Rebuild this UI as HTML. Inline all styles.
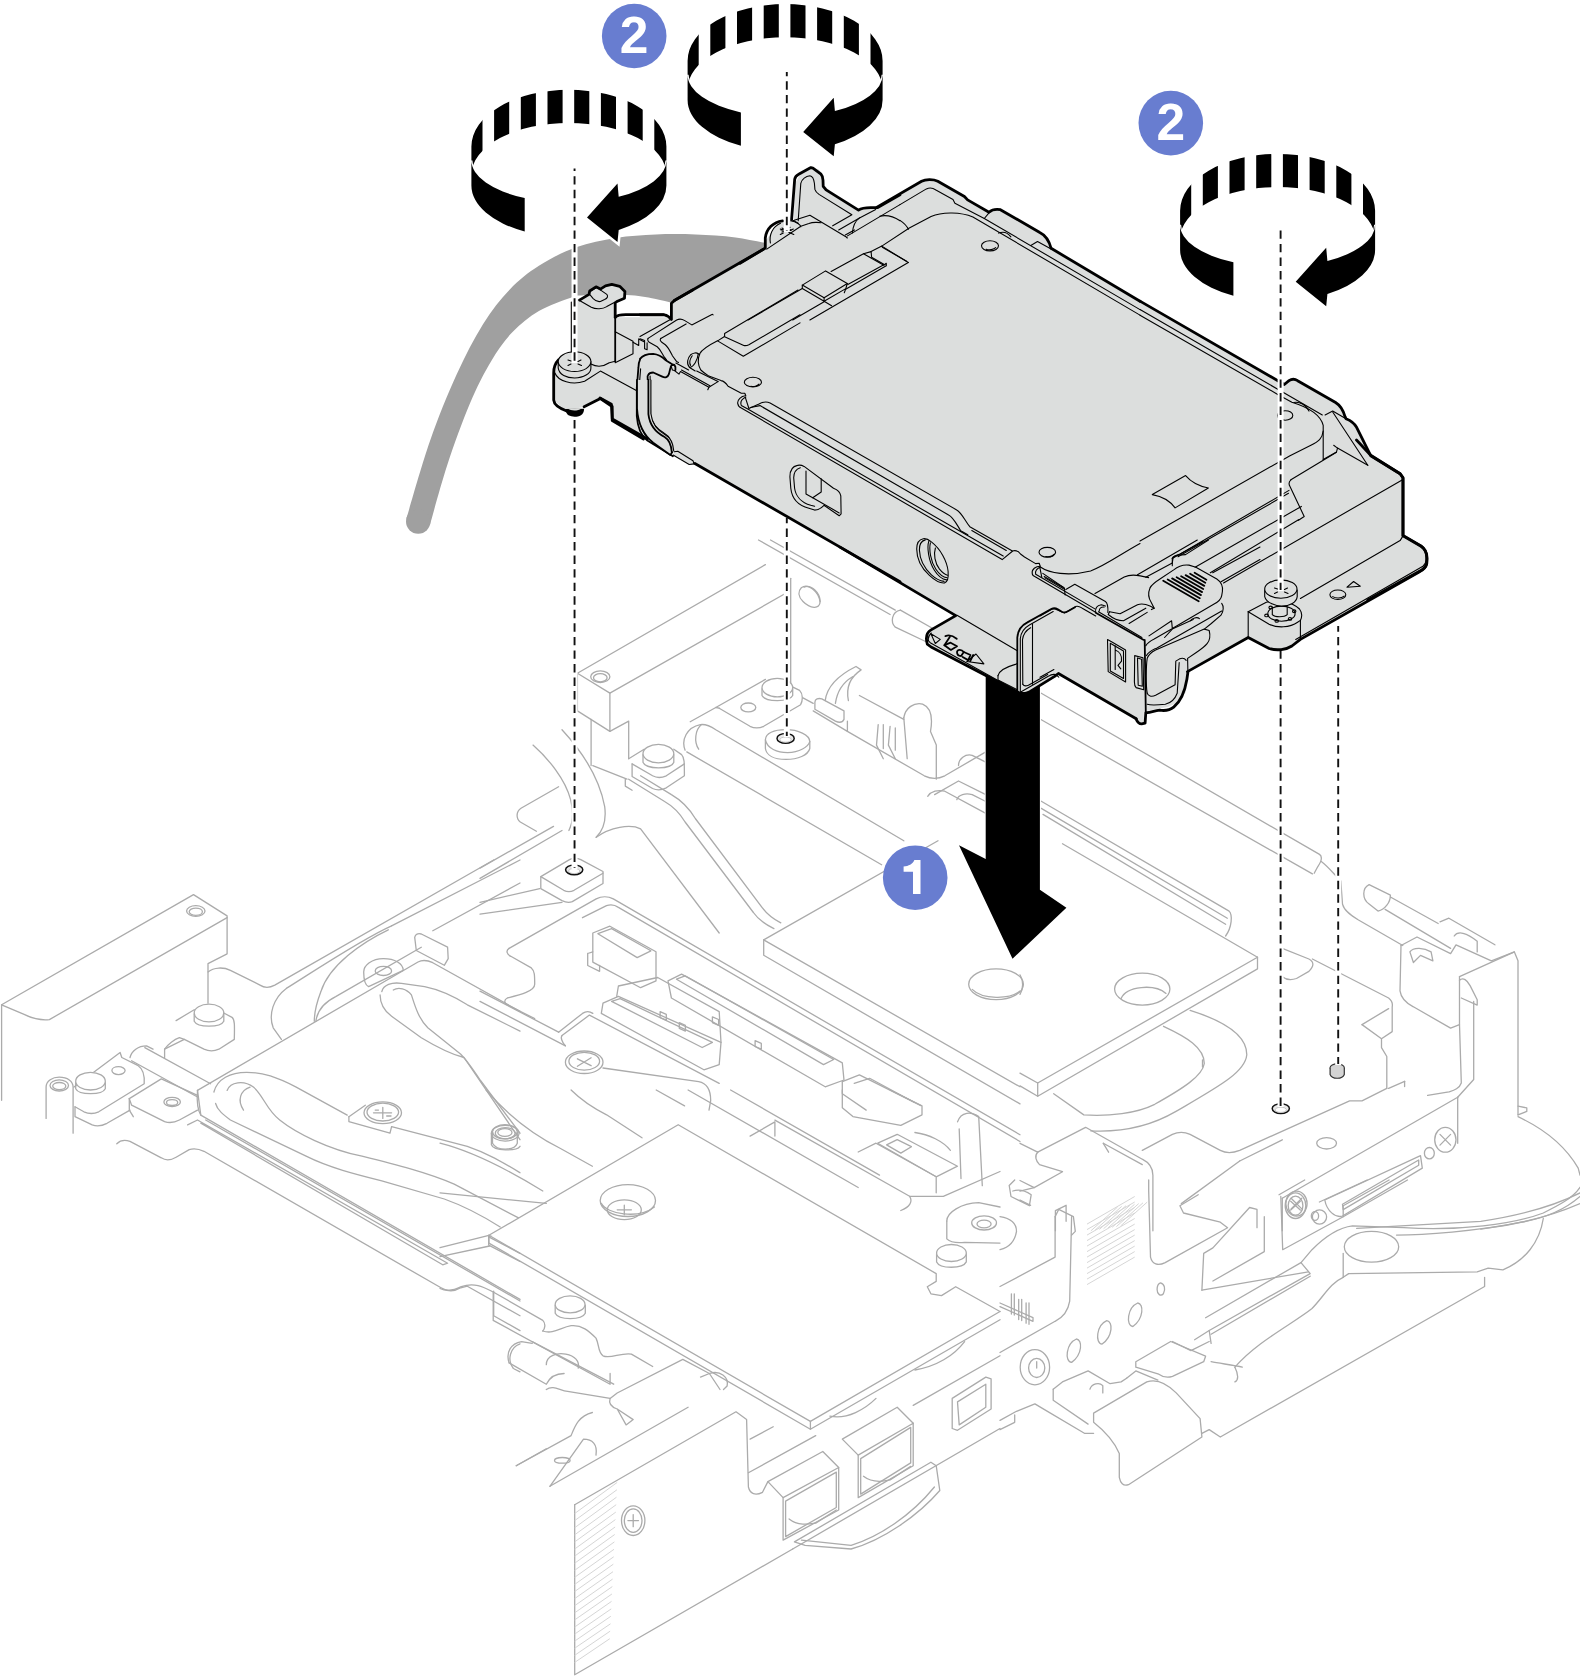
<!DOCTYPE html>
<html><head><meta charset="utf-8"><title>Install drive cage</title>
<style>
html,body{margin:0;padding:0;background:#fff;}
body{width:1580px;height:1677px;overflow:hidden;font-family:"Liberation Sans",sans-serif;}
svg{display:block;}
.chh{fill:none;stroke:#d6d6d6;stroke-width:1;}
.chp{fill:#d4d4d4;stroke:#333;stroke-width:1.2;}
.ch{fill:none;stroke:#ababab;stroke-width:1.3;stroke-linejoin:round;stroke-linecap:round;}
.chf{fill:#fff;stroke:#ababab;stroke-width:1.3;stroke-linejoin:round;stroke-linecap:round;}
.tk{fill:none;stroke:#000;stroke-width:2.8;stroke-linejoin:round;stroke-linecap:round;}
.tn{fill:none;stroke:#000;stroke-width:1.1;stroke-linejoin:round;stroke-linecap:round;}
.md{fill:none;stroke:#000;stroke-width:1.8;stroke-linejoin:round;stroke-linecap:round;}
.gf{fill:#dcdedd;stroke:none;}
.gft{fill:#dcdedd;stroke:#000;stroke-width:1.1;stroke-linejoin:round;}
.gfk{fill:#dcdedd;stroke:#000;stroke-width:2.8;stroke-linejoin:round;}
.bk{fill:#000;stroke:none;}
.bkh{fill:#000;stroke:#fff;stroke-width:2;stroke-linejoin:miter;paint-order:stroke;}
.dsh{fill:none;stroke:#111;stroke-width:1.9;stroke-dasharray:8.4 5.15;}
.dshw{fill:none;stroke:#fff;stroke-width:6;}
.num{font-family:"Liberation Sans",sans-serif;font-weight:bold;font-size:51.5px;fill:#fff;text-anchor:middle;}
</style></head><body>
<svg width="1580" height="1677" viewBox="0 0 1580 1677">
<rect width="1580" height="1677" fill="#fff"/>
<path d="M 577.4,673.3 L 765.4,564.6" class="ch"/>
<path d="M 577.4,673.3 L 609.9,693.1 L 789.3,591.3" class="ch"/>
<path d="M 577.4,673.3 L 577.4,710.9 L 609.9,731.4 L 609.9,693.1" class="ch"/>
<path d="M 609.9,731.4 L 628.7,721.1 L 628.7,758.7" class="ch"/>
<path d="M 591.1,719.4 L 591.1,765.6" class="ch"/>
<path d="M 590.7,676.7 C 590.7,673.5 595.0,670.9 600.3,670.9 C 605.6,670.9 609.9,673.5 609.9,676.7 C 609.9,679.9 605.6,682.5 600.3,682.5 C 595.0,682.5 590.7,679.9 590.7,676.7 Z" class="ch"/>
<path d="M 593.5,677.7 C 593.5,675.5 596.5,673.6 600.3,673.6 C 604.1,673.6 607.1,675.5 607.1,677.7 C 607.1,680.0 604.1,681.8 600.3,681.8 C 596.5,681.8 593.5,680.0 593.5,677.7 Z" class="ch"/>
<path d="M 790.7,578.3 L 790.7,690.4" class="ch"/>
<path d="M 801.3,587.8 C 808.1,582.7 818.4,591.3 820.1,601.5 C 820.1,610.1 809.8,608.4 803.0,601.5 C 797.9,596.4 797.9,591.3 801.3,587.8 Z" class="ch"/>
<path d="M 804.0,587.2 C 810.8,583.7 820.1,593.0 820.1,601.5" class="ch"/>
<path d="M 758.5,540.0 L 890.1,614.5" class="ch"/>
<path d="M 770.5,540.0 L 895.3,610.1" class="ch"/>
<path d="M 900.4,610.1 C 891.8,611.8 890.1,622.0 895.3,627.2 L 927.7,642.5" class="ch"/>
<path d="M 900.4,610.1 L 934.6,629.5" class="ch"/>
<path d="M 825.2,700.6 C 826.9,687.0 838.9,675.0 856.0,666.5 L 861.1,669.9 C 850.8,676.7 845.7,687.0 848.4,700.6" class="ch"/>
<path d="M 835.4,703.4 C 837.2,690.4 844.0,681.8 852.5,676.7" class="ch"/>
<path d="M 814.9,702.3 C 814.9,698.9 818.4,697.9 821.8,698.9 L 844.0,710.9 L 844.0,719.4 C 842.3,722.8 838.9,722.8 835.4,721.1 L 814.9,709.2 Z" class="ch"/>
<path d="M 813.2,703.4 L 803.0,697.9" class="ch"/>
<path d="M 903.8,717.7 C 905.5,707.5 914.1,702.3 922.6,704.1 C 931.1,707.5 932.9,717.7 930.5,731.4 L 936.3,745.1 L 936.3,779.2" class="ch"/>
<path d="M 903.8,717.7 L 907.2,758.7" class="ch"/>
<path d="M 859.4,695.5 L 903.8,719.4" class="ch"/>
<path d="M 878.2,724.6 L 876.5,745.1 L 883.3,758.7 M 883.3,724.6 L 883.3,748.5 M 890.1,726.3 L 888.4,745.1 L 895.3,758.7 M 895.3,728.0 L 895.3,750.2" class="ch"/>
<path d="M 847.4,731.4 L 924.3,775.8 C 931.1,779.2 938.0,779.2 944.8,775.8 L 985.8,751.9" class="ch"/>
<path d="M 813.2,710.9 L 847.4,731.4 L 847.4,721.1" class="ch"/>
<path d="M 958.5,765.6 C 958.5,758.7 965.3,753.6 972.2,755.3 L 985.8,762.2" class="ch"/>
<path d="M 927.7,796.3 C 931.1,791.2 938.0,789.5 944.8,791.2 L 985.8,813.4" class="ch"/>
<path d="M 934.6,794.6 L 958.5,781.0 L 985.8,794.6" class="ch"/>
<path d="M 956.8,799.7 C 958.5,794.6 965.3,792.9 972.2,794.6 L 985.8,801.5" class="ch"/>
<path d="M 643.0,754.6 L 643.0,762.2 C 645.8,769.7 671.4,769.7 673.8,762.2 L 673.8,754.6" class="ch"/>
<path d="M 643.0,753.6 C 643.0,748.5 649.9,744.4 658.4,744.4 C 666.9,744.4 673.8,748.5 673.8,753.6 C 673.8,758.7 666.9,762.8 658.4,762.8 C 649.9,762.8 643.0,758.7 643.0,753.6 Z" class="chf"/>
<path d="M 628.7,758.7 L 644.1,749.2" class="ch"/>
<path d="M 673.8,749.2 L 681.6,754.6 C 684.4,757.4 684.4,762.2 684.4,775.8 L 666.3,787.8 C 661.1,790.5 657.0,790.5 652.6,788.5 L 632.1,776.5 L 632.1,763.9" class="ch"/>
<path d="M 632.1,763.9 L 652.6,775.8 C 657.0,778.2 661.1,778.2 666.3,775.8 L 684.4,763.9" class="ch"/>
<path d="M 715.8,707.5 L 765.4,679.4" class="ch"/>
<path d="M 789.3,685.3 L 799.6,690.4 C 803.0,693.8 803.0,700.6 800.6,704.7 L 763.7,726.3 C 758.5,728.7 753.4,728.0 750.0,726.3 L 719.2,708.2" class="ch"/>
<path d="M 719.2,708.2 L 715.8,707.5 L 690.2,721.8" class="ch"/>
<path d="M 762.0,688.7 L 762.0,695.5 C 765.4,702.3 789.3,702.3 792.7,695.5 L 792.7,688.7" class="ch"/>
<path d="M 762.0,687.6 C 762.0,682.6 768.8,678.4 777.3,678.4 C 785.8,678.4 792.7,682.6 792.7,687.6 C 792.7,692.7 785.8,696.9 777.3,696.9 C 768.8,696.9 762.0,692.7 762.0,687.6 Z" class="chf"/>
<path d="M 740.8,707.5 C 740.8,705.0 744.1,703.0 748.3,703.0 C 752.4,703.0 755.8,705.0 755.8,707.5 C 755.8,709.9 752.4,711.9 748.3,711.9 C 744.1,711.9 740.8,709.9 740.8,707.5 Z" class="ch"/>
<path d="M 765.4,739.9 C 765.4,733.1 773.9,729.7 785.9,729.7 C 797.9,729.7 809.8,734.8 809.8,741.6 L 809.8,748.5 C 808.1,755.3 797.9,759.4 785.9,759.4 C 773.9,759.4 766.4,755.3 765.4,748.5 Z" class="chf"/>
<path d="M 765.4,739.9 C 767.1,748.5 777.3,752.6 787.6,752.6 C 799.6,752.6 808.1,746.8 809.8,741.6" class="ch"/>
<path d="M 540.8,876.6 L 569.5,859.6 C 572.3,857.9 577.4,857.9 580.8,859.6 L 603.0,871.5 L 603.0,883.5 L 572.3,901.6 C 568.9,903.0 565.4,902.3 562.0,900.6 L 540.8,888.6 Z" class="chf"/>
<path d="M 540.8,876.6 L 563.7,890.3 C 567.2,892.0 570.6,892.0 574.0,890.3 L 603.0,873.2" class="ch"/>
<path d="M 685.1,750.2 C 681.0,739.9 686.8,727.3 700.4,724.6 C 705.6,723.9 710.7,726.3 715.8,729.7 L 903.8,840.8" class="ch"/>
<path d="M 686.8,751.9 L 881.6,864.7" class="ch"/>
<path d="M 701.5,724.6 C 695.3,729.7 693.6,741.6 698.7,749.2" class="ch"/>
<path d="M 628.7,779.2 L 664.6,801.5 C 674.8,807.3 679.9,813.4 685.1,822.0 L 753.4,912.5 C 758.5,920.1 765.4,924.5 773.9,928.6" class="ch"/>
<path d="M 640.6,775.8 L 671.4,794.6 C 683.4,801.5 690.2,810.0 695.3,818.5 L 762.0,907.4 C 767.1,914.2 773.9,919.4 780.8,922.8" class="ch"/>
<path d="M 625.3,779.2 L 625.3,786.1 L 632.1,790.2" class="ch"/>
<path d="M 763.7,939.9 L 938.0,840.8" class="ch"/>
<path d="M 763.7,939.9 L 1020.0,1086.8" class="ch"/>
<path d="M 763.7,939.9 L 763.7,955.3 L 1020.0,1103.9" class="ch"/>
<path d="M 968.7,984.3 C 968.7,975.8 981.0,968.9 996.1,968.9 C 1011.2,968.9 1023.4,975.8 1023.4,984.3 C 1023.4,992.8 1011.2,999.7 996.1,999.7 C 981.0,999.7 968.7,992.8 968.7,984.3 Z" class="ch"/>
<path d="M 972.2,989.4 C 982.4,999.7 1009.8,999.7 1020.0,991.1" class="ch"/>
<path d="M 533.0,745.1 C 548.4,758.7 565.4,779.2 570.6,799.7 C 574.0,813.4 572.3,823.7 568.9,830.5" class="ch"/>
<path d="M 562.0,729.7 C 582.5,751.9 599.6,779.2 604.7,806.6 C 606.5,820.3 603.0,830.5 596.2,837.3" class="ch"/>
<path d="M 558.6,786.8 L 521.0,808.3 C 515.9,811.7 515.9,818.5 520.3,822.0 L 536.4,831.2" class="ch"/>
<path d="M 480.0,868.1 L 553.5,826.4" class="ch"/>
<path d="M 480.0,878.4 L 562.0,830.5" class="ch"/>
<path d="M 592.8,765.6 L 627.0,779.2" class="ch"/>
<path d="M 596.2,837.3 C 609.9,827.1 630.4,823.7 640.6,828.8 L 719.2,933.0" class="ch"/>
<path d="M 509.1,948.4 L 596.2,898.9 C 601.3,896.1 608.2,896.1 613.3,898.9 L 1020.0,1134.7" class="ch"/>
<path d="M 509.1,948.4 C 505.6,950.8 506.7,954.2 510.8,956.3 L 531.3,967.9 C 534.7,970.6 534.7,975.8 534.7,984.3 C 534.7,991.1 521.0,994.6 507.3,998.0 C 503.9,999.7 503.9,1003.1 507.3,1004.8 L 534.7,1018.5" class="ch"/>
<path d="M 582.5,917.7 L 606.5,905.7 C 611.6,904.0 615.0,905.0 618.4,907.4 L 1020.0,1141.5" class="ch"/>
<path d="M 480.0,902.3 L 539.8,888.6" class="ch"/>
<path d="M 480.0,914.2 L 562.0,902.3" class="ch"/>
<path d="M 592.8,933.0 L 609.9,926.2 L 656.0,951.8 L 656.0,980.9 L 640.6,987.7 L 592.8,962.1 Z" class="ch"/>
<path d="M 597.9,933.7 L 611.6,928.6 L 650.9,950.8 L 637.2,957.6 Z" class="ch"/>
<path d="M 587.7,953.5 L 592.8,951.8 M 587.7,953.5 L 587.7,965.5 L 599.6,971.3 L 599.6,965.5" class="ch"/>
<path d="M 603.0,1003.1 L 618.4,996.3 L 721.0,1042.4 L 719.2,1064.6 L 703.9,1069.8 L 601.3,1013.4 Z" class="ch"/>
<path d="M 611.6,1001.4 L 620.1,998.7 L 712.4,1042.4 L 702.2,1047.5 Z" class="ch"/>
<path d="M 616.7,996.3 L 618.4,986.0 L 657.7,977.5 L 719.2,1011.6 L 721.0,1042.4" class="ch"/>
<path d="M 668.0,980.9 L 681.6,974.1 L 842.3,1062.9 L 844.0,1080.0 L 825.2,1086.8 L 671.4,998.0 Z" class="ch"/>
<path d="M 676.5,979.2 L 685.1,975.8 L 833.7,1059.5 L 823.5,1064.6 Z" class="ch"/>
<path d="M 842.3,1081.7 L 859.4,1074.9 L 920.9,1105.6" class="ch"/>
<path d="M 854.2,1083.4 L 869.6,1078.3 L 914.1,1102.2" class="ch"/>
<path d="M 842.3,1081.7 L 842.3,1093.7 L 866.2,1110.1" class="ch"/>
<path d="M 562.0,1035.6 L 589.4,1015.1 L 719.2,1083.4" class="ch"/>
<path d="M 558.6,1032.2 L 582.5,1013.4 C 586.0,1011.0 589.4,1011.0 592.8,1013.4" class="ch"/>
<path d="M 480.0,991.1 L 558.6,1032.2" class="ch"/>
<path d="M 480.0,1001.4 L 565.4,1045.8" class="ch"/>
<path d="M 565.4,1045.8 C 562.0,1042.4 560.3,1037.3 562.0,1035.6" class="ch"/>
<path d="M 565.4,1062.2 C 565.4,1056.0 573.9,1051.0 584.2,1051.0 C 594.6,1051.0 603.0,1056.0 603.0,1062.2 C 603.0,1068.5 594.6,1073.5 584.2,1073.5 C 573.9,1073.5 565.4,1068.5 565.4,1062.2 Z" class="ch"/>
<path d="M 568.9,1061.2 C 568.9,1056.3 575.7,1052.3 584.2,1052.3 C 592.7,1052.3 599.6,1056.3 599.6,1061.2 C 599.6,1066.1 592.7,1070.1 584.2,1070.1 C 575.7,1070.1 568.9,1066.1 568.9,1061.2 Z" class="ch"/>
<path d="M 577.4,1058.8 L 591.1,1065.7 M 591.1,1057.8 L 577.4,1066.3" class="ch"/>
<path d="M 603.0,1068.0 L 698.7,1081.7 C 707.3,1083.4 710.7,1090.3 710.7,1100.5 L 709.0,1110.1" class="ch"/>
<path d="M 660.1,1011.6 L 666.3,1014.4 L 666.3,1020.2 L 660.1,1017.5 Z" class="ch"/>
<path d="M 679.3,1022.6 L 685.4,1025.3 L 685.4,1031.1 L 679.3,1028.4 Z" class="ch"/>
<path d="M 712.4,1016.8 L 718.6,1019.5 L 718.6,1025.3 L 712.4,1022.6 Z" class="ch"/>
<path d="M 755.1,1040.7 L 761.3,1043.4 L 761.3,1049.2 L 755.1,1046.5 Z" class="ch"/>
<path d="M 1041.3,693.2 L 1319.5,854.4 C 1323.0,856.9 1321.3,861.5 1317.7,866.8 L 1314.2,873.2" class="ch"/>
<path d="M 1041.3,719.7 L 1312.4,873.9" class="ch"/>
<path d="M 1041.3,801.3 L 1229.1,911.1 C 1232.7,914.7 1232.0,927.1 1225.6,936.0" class="ch"/>
<path d="M 1041.3,808.4 L 1227.3,918.2" class="ch"/>
<path d="M 1043.0,814.4 L 1225.6,924.3" class="ch"/>
<path d="M 1257.5,957.2 L 1062.5,843.8" class="ch"/>
<path d="M 1257.5,957.2 L 1037.7,1083.0 L 1020.0,1073.1" class="ch"/>
<path d="M 1257.5,957.2 L 1257.5,968.9 L 1037.7,1096.2 L 1037.7,1083.0" class="ch"/>
<path d="M 1037.7,1096.2 L 1020.0,1085.9" class="ch"/>
<path d="M 1114.6,989.1 C 1114.6,980.3 1127.0,973.2 1142.3,973.2 C 1157.5,973.2 1169.9,980.3 1169.9,989.1 C 1169.9,997.9 1157.5,1005.1 1142.3,1005.1 C 1127.0,1005.1 1114.6,997.9 1114.6,989.1 Z" class="ch"/>
<path d="M 1121.0,998.7 C 1126.3,985.6 1154.7,983.8 1166.0,993.4" class="ch"/>
<path d="M 1020.0,974.9 C 1023.5,980.3 1023.5,989.1 1020.0,994.4" class="ch"/>
<path d="M 1190.1,1010.4 C 1218.5,1019.2 1246.8,1033.4 1246.8,1054.7 C 1245.1,1072.4 1218.5,1086.6 1176.0,1111.4 C 1154.7,1123.8 1126.3,1132.7 1090.9,1130.9" class="ch"/>
<path d="M 1163.5,1026.3 C 1186.6,1037.0 1204.3,1047.6 1204.3,1063.5 C 1202.5,1076.0 1183.0,1088.4 1154.7,1104.3 C 1137.0,1113.2 1108.6,1116.7 1083.8,1114.9 L 1053.7,1093.7" class="ch"/>
<path d="M 1202.5,1060.0 L 1202.5,1067.1" class="ch"/>
<path d="M 1282.3,948.4 L 1308.9,959.0 C 1314.2,961.8 1314.2,966.1 1308.9,971.4 L 1296.5,978.5 C 1291.1,980.3 1285.8,979.5 1282.3,976.7" class="ch"/>
<path d="M 1321.3,861.5 C 1328.4,866.8 1333.7,873.9 1340.8,881.0 L 1342.5,904.1 C 1344.3,911.1 1351.4,915.7 1358.5,920.0 L 1402.8,945.5" class="ch"/>
<path d="M 1312.4,959.0 L 1388.6,998.0 C 1392.2,1000.8 1392.9,1003.3 1392.2,1006.8 L 1392.2,1031.6 L 1381.5,1038.7 L 1381.5,1047.6 L 1386.8,1056.5 L 1386.8,1088.4" class="ch"/>
<path d="M 1362.0,1024.6 L 1388.6,1008.6" class="ch"/>
<path d="M 1362.0,1024.6 L 1381.5,1038.7" class="ch"/>
<path d="M 1386.8,1088.4 L 1362.0,1100.8 L 1349.6,1100.8 L 1239.7,1150.4 C 1232.7,1153.2 1225.6,1153.2 1220.3,1150.4 L 1190.1,1134.4 C 1184.8,1132.0 1177.7,1132.0 1172.4,1134.4 L 1142.3,1150.4" class="ch"/>
<path d="M 1404.6,1081.3 L 1388.6,1088.4" class="ch"/>
<path d="M 1404.6,1081.3 L 1404.6,1086.6" class="ch"/>
<path d="M 1457.7,1097.2 L 1282.3,1198.2" class="ch"/>
<path d="M 1457.7,1097.2 L 1457.7,1143.3" class="ch"/>
<path d="M 1282.3,1198.2 L 1282.3,1230.8" class="ch"/>
<path d="M 1239.7,1161.0 L 1282.3,1139.8" class="ch"/>
<path d="M 1181.3,1203.6 L 1239.7,1161.0" class="ch"/>
<path d="M 1401.0,945.5 L 1417.0,937.0 L 1450.6,953.7 L 1456.0,944.8 L 1491.4,960.8 L 1514.4,951.9 L 1518.0,960.8 L 1518.0,1114.9" class="ch"/>
<path d="M 1401.0,945.5 L 1400.0,990.9 C 1401.0,998.0 1406.3,1003.3 1413.4,1006.8 L 1450.6,1028.1 L 1459.5,1024.6 L 1459.5,976.7" class="ch"/>
<path d="M 1459.5,1024.6 L 1461.3,1083.0 C 1459.5,1088.4 1454.2,1090.1 1448.9,1091.9 L 1427.6,1095.4" class="ch"/>
<path d="M 1473.7,1001.5 L 1473.7,1079.5 L 1457.7,1097.2" class="ch"/>
<path d="M 1459.5,976.7 L 1514.4,951.9" class="ch"/>
<path d="M 1409.9,951.9 C 1413.4,946.6 1424.1,947.6 1431.1,951.9 L 1432.9,960.8 L 1420.5,955.4 L 1413.4,962.5 Z" class="ch"/>
<path d="M 1440.0,921.8 L 1448.9,918.2 L 1494.9,944.8" class="ch"/>
<path d="M 1454.2,936.0 C 1457.7,930.6 1466.6,932.4 1477.2,941.3 L 1477.2,951.9" class="ch"/>
<path d="M 1459.5,980.3 C 1463.0,976.7 1467.3,980.3 1470.1,985.6 L 1477.2,999.8 L 1477.2,1005.1 L 1461.3,998.0" class="ch"/>
<path d="M 1369.1,884.6 C 1362.0,888.1 1362.0,898.7 1369.1,904.1 L 1378.0,911.1 C 1385.1,909.4 1390.4,902.3 1390.4,895.2 Z" class="ch"/>
<path d="M 1390.4,897.0 L 1438.2,923.5" class="ch"/>
<path d="M 1385.1,909.4 L 1450.6,948.4" class="ch"/>
<path d="M 1330.1,1067.8 C 1330.1,1065.6 1333.3,1063.9 1337.2,1063.9 C 1341.1,1063.9 1344.3,1065.6 1344.3,1067.8 C 1344.3,1070.0 1341.1,1071.7 1337.2,1071.7 C 1333.3,1071.7 1330.1,1070.0 1330.1,1067.8 Z" class="chp"/>
<path d="M 1330.1,1067.8 L 1330.1,1074.5 C 1331.9,1079.5 1342.5,1079.5 1344.3,1074.5 L 1344.3,1067.8" class="chp"/>
<path d="M 1518.0,1114.9 L 1526.8,1111.4 L 1526.8,1107.9 L 1518.0,1106.1" class="ch"/>
<path d="M 1518.0,1116.7 C 1544.6,1129.1 1565.8,1146.8 1578.2,1168.1 L 1580.0,1175.2" class="ch"/>
<path d="M 1580.0,1192.9 C 1551.7,1207.1 1516.2,1216.0 1480.8,1221.3 L 1356.7,1228.4" class="ch"/>
<path d="M 1580.0,1203.6 C 1551.7,1216.0 1516.2,1224.8 1480.8,1229.1" class="ch"/>
<path d="M 1434.7,1139.8 C 1434.7,1132.9 1439.4,1127.3 1445.3,1127.3 C 1451.2,1127.3 1456.0,1132.9 1456.0,1139.8 C 1456.0,1146.6 1451.2,1152.2 1445.3,1152.2 C 1439.4,1152.2 1434.7,1146.6 1434.7,1139.8 Z" class="ch"/>
<path d="M 1440.0,1134.4 L 1450.6,1145.1 M 1450.6,1134.4 L 1440.0,1145.1" class="ch"/>
<path d="M 1285.8,1203.6 C 1285.8,1196.7 1290.6,1191.1 1296.5,1191.1 C 1302.3,1191.1 1307.1,1196.7 1307.1,1203.6 C 1307.1,1210.4 1302.3,1216.0 1296.5,1216.0 C 1290.6,1216.0 1285.8,1210.4 1285.8,1203.6 Z" class="ch"/>
<path d="M 1291.1,1198.2 L 1301.8,1208.9 M 1301.8,1198.2 L 1291.1,1208.9" class="ch"/>
<path d="M 1424.4,1153.2 C 1424.4,1150.1 1426.6,1147.5 1429.4,1147.5 C 1432.1,1147.5 1434.3,1150.1 1434.3,1153.2 C 1434.3,1156.4 1432.1,1158.9 1429.4,1158.9 C 1426.6,1158.9 1424.4,1156.4 1424.4,1153.2 Z" class="ch"/>
<path d="M 1312.4,1217.0 C 1312.4,1213.1 1315.6,1209.9 1319.5,1209.9 C 1323.4,1209.9 1326.6,1213.1 1326.6,1217.0 C 1326.6,1220.9 1323.4,1224.1 1319.5,1224.1 C 1315.6,1224.1 1312.4,1220.9 1312.4,1217.0 Z" class="ch"/>
<path d="M 1324.8,1200.0 L 1420.5,1155.7 L 1422.3,1168.1 L 1342.5,1216.0 C 1335.4,1218.4 1326.6,1210.6 1324.8,1200.0 Z" class="ch"/>
<path d="M 1342.5,1204.3 L 1418.7,1160.0 L 1418.7,1165.3 L 1343.2,1209.6 Z" class="ch"/>
<path d="M 1316.7,1143.3 C 1316.7,1140.2 1321.1,1137.6 1326.6,1137.6 C 1332.1,1137.6 1336.5,1140.2 1336.5,1143.3 C 1336.5,1146.4 1332.1,1149.0 1326.6,1149.0 C 1321.1,1149.0 1316.7,1146.4 1316.7,1143.3 Z" class="ch"/>
<path d="M 1037.7,1152.2 L 1085.6,1127.3 L 1142.3,1159.2 C 1149.4,1162.8 1152.9,1168.1 1152.9,1175.2 L 1152.9,1230.8" class="ch"/>
<path d="M 1037.7,1152.2 L 1020.0,1143.3" class="ch"/>
<path d="M 1103.3,1143.3 L 1142.3,1164.6" class="ch"/>
<path d="M 1103.3,1143.3 L 1108.6,1152.2" class="ch"/>
<path d="M 1037.7,1152.2 C 1034.2,1155.7 1035.9,1161.0 1039.5,1164.6 L 1062.5,1171.7 L 1034.2,1187.6 L 1020.0,1180.5" class="ch"/>
<path d="M 1055.4,1230.8 L 1055.4,1210.6 L 1066.1,1205.3 L 1066.1,1221.3" class="ch"/>
<path d="M 1020.0,1200.0 L 1030.6,1205.3" class="ch"/>
<path d="M 1020.0,1191.1 L 1034.2,1187.6" class="ch"/>
<path d="M 1090.9,1230.8 L 1117.5,1207.1" class="chh"/>
<path d="M 1095.1,1230.1 L 1121.7,1206.4" class="chh"/>
<path d="M 1099.4,1229.4 L 1126.0,1205.7" class="chh"/>
<path d="M 1103.6,1228.7 L 1130.2,1205.0" class="chh"/>
<path d="M 1107.9,1228.0 L 1134.5,1204.3" class="chh"/>
<path d="M 1112.2,1227.3 L 1138.7,1203.6" class="chh"/>
<path d="M 1116.4,1226.6 L 1143.0,1202.8" class="chh"/>
<path d="M 1120.7,1225.9 L 1147.2,1202.1" class="chh"/>
<path d="M 1.6,1004.8 L 193.5,894.6 L 227.1,915.9 L 227.1,953.8 L 208.0,963.7 L 208.0,1003.2" class="ch"/>
<path d="M 1.6,1004.8 L 1.6,1100.3" class="ch"/>
<path d="M 1.6,1004.8 L 24.7,1014.7 C 31.3,1018.0 39.5,1020.6 49.4,1019.6 L 227.1,917.6" class="ch"/>
<path d="M 186.6,911.0 C 186.6,908.1 190.7,905.7 195.8,905.7 C 200.9,905.7 205.0,908.1 205.0,911.0 C 205.0,913.9 200.9,916.3 195.8,916.3 C 190.7,916.3 186.6,913.9 186.6,911.0 Z" class="ch"/>
<path d="M 189.2,911.7 C 189.2,909.7 192.2,908.1 195.8,908.1 C 199.5,908.1 202.4,909.7 202.4,911.7 C 202.4,913.7 199.5,915.3 195.8,915.3 C 192.2,915.3 189.2,913.7 189.2,911.7 Z" class="ch"/>
<path d="M 208.0,971.9 C 213.9,967.0 223.8,967.0 230.4,970.3 L 260.0,985.1 C 264.9,988.4 269.9,987.7 274.8,985.1 L 493.7,860.0" class="ch"/>
<path d="M 391.6,925.8 C 362.0,939.0 312.7,971.9 286.3,988.4 C 273.2,998.2 268.2,1014.7 273.2,1027.8 L 281.4,1039.4" class="ch"/>
<path d="M 388.3,929.8 C 362.0,942.3 329.1,965.3 320.9,991.6 C 315.9,1004.8 314.3,1014.7 314.3,1021.3" class="ch"/>
<path d="M 315.9,1021.3 C 317.6,1008.1 325.8,1001.5 335.7,996.6 L 421.3,947.2" class="ch"/>
<path d="M 391.6,925.8 L 520.0,860.0" class="ch"/>
<path d="M 432.8,930.8 L 520.0,883.0" class="ch"/>
<path d="M 414.7,937.3 C 415.3,934.0 418.0,933.1 421.3,934.0 L 447.6,947.2 L 448.2,958.7 L 444.3,965.3 L 416.3,950.5 Z" class="ch"/>
<path d="M 363.7,971.9 C 363.7,965.3 371.9,958.7 383.4,958.7 C 394.9,958.7 403.2,963.7 403.2,970.3 L 368.6,986.7 C 365.3,985.1 363.7,980.1 363.7,971.9" class="ch"/>
<path d="M 375.2,970.9 C 375.2,968.4 378.9,966.3 383.4,966.3 C 388.0,966.3 391.6,968.4 391.6,970.9 C 391.6,973.5 388.0,975.5 383.4,975.5 C 378.9,975.5 375.2,973.5 375.2,970.9 Z" class="ch"/>
<path d="M 197.5,1090.4 L 418.0,962.0 C 422.9,959.4 427.8,960.4 432.8,962.7 L 520.0,1011.4" class="ch"/>
<path d="M 197.5,1090.4 L 200.8,1115.1 L 520.0,1299.4" class="ch"/>
<path d="M 200.8,1115.1 C 197.5,1110.1 196.8,1100.3 197.5,1090.4" class="ch"/>
<path d="M 205.7,1120.0 L 520.0,1301.0" class="ch"/>
<path d="M 213.9,1092.0 C 217.2,1078.9 230.4,1072.3 246.8,1072.3 C 263.3,1072.3 276.5,1077.2 296.2,1087.1 L 347.2,1115.1" class="ch"/>
<path d="M 391.6,1126.6 L 467.3,1146.3 C 487.1,1152.9 503.5,1162.8 520.0,1172.7" class="ch"/>
<path d="M 215.6,1103.5 C 217.2,1110.1 223.8,1115.1 230.4,1120.0 L 306.1,1156.2 C 329.1,1167.7 355.4,1174.3 381.8,1180.9 L 444.3,1199.0 C 467.3,1207.2 487.1,1218.7 500.2,1227.0" class="ch"/>
<path d="M 227.1,1090.4 C 230.4,1082.1 243.5,1079.8 253.4,1087.1 C 263.3,1095.3 266.6,1110.1 279.7,1120.0 C 296.2,1133.2 329.1,1149.6 362.0,1156.2 C 394.9,1164.4 427.8,1172.7 454.2,1184.2 L 520.0,1218.7" class="ch"/>
<path d="M 243.5,1110.1 C 237.0,1100.3 240.3,1090.4 250.1,1087.1" class="ch"/>
<path d="M 381.8,991.6 C 383.4,985.1 391.6,981.8 401.5,983.4 L 424.6,986.7 C 441.0,990.0 454.2,996.6 467.3,1004.8 L 520.0,1031.1" class="ch"/>
<path d="M 380.1,994.9 C 380.1,1004.8 385.1,1011.4 391.6,1016.3 L 421.3,1037.7 C 437.7,1047.6 450.9,1054.2 464.0,1057.5 L 520.0,1139.7" class="ch"/>
<path d="M 393.3,990.0 C 398.2,986.7 406.5,988.4 411.4,994.9 C 414.7,1004.8 418.0,1018.0 427.8,1027.8 L 460.8,1054.2 C 467.3,1060.8 473.9,1070.6 480.5,1080.5 L 520.0,1133.2" class="ch"/>
<path d="M 194.2,1014.0 L 194.2,1021.3 C 197.5,1027.8 220.5,1027.8 223.8,1021.3 L 223.8,1014.0" class="ch"/>
<path d="M 194.2,1013.0 C 194.2,1008.1 200.8,1004.2 209.0,1004.2 C 217.2,1004.2 223.8,1008.1 223.8,1013.0 C 223.8,1017.9 217.2,1021.9 209.0,1021.9 C 200.8,1021.9 194.2,1017.9 194.2,1013.0 Z" class="chf"/>
<path d="M 176.1,1020.6 L 194.2,1009.7" class="ch"/>
<path d="M 223.8,1013.0 L 232.0,1017.3 C 234.7,1019.6 234.7,1024.6 234.3,1039.4 L 218.9,1049.2 C 213.9,1051.5 209.0,1051.5 204.0,1049.2 L 184.3,1039.4 L 164.6,1049.2 L 164.6,1057.5" class="ch"/>
<path d="M 164.6,1049.2 C 167.8,1044.3 174.4,1039.4 179.4,1037.7 L 184.3,1039.4" class="ch"/>
<path d="M 46.1,1118.4 L 46.1,1087.1 C 46.1,1080.5 52.7,1077.2 59.2,1077.2 C 67.5,1077.2 73.1,1081.2 73.1,1087.1 L 73.1,1133.2" class="ch"/>
<path d="M 50.0,1085.4 C 50.0,1082.4 54.2,1079.8 59.2,1079.8 C 64.3,1079.8 68.5,1082.4 68.5,1085.4 C 68.5,1088.5 64.3,1091.0 59.2,1091.0 C 54.2,1091.0 50.0,1088.5 50.0,1085.4 Z" class="ch"/>
<path d="M 52.7,1086.1 C 52.7,1084.1 55.6,1082.5 59.2,1082.5 C 62.9,1082.5 65.8,1084.1 65.8,1086.1 C 65.8,1088.1 62.9,1089.7 59.2,1089.7 C 55.6,1089.7 52.7,1088.1 52.7,1086.1 Z" class="ch"/>
<path d="M 74.0,1087.1 L 120.1,1052.5 L 121.8,1057.5 L 138.2,1065.7 C 143.2,1069.0 144.8,1073.9 144.2,1083.8 L 98.7,1111.8 C 93.8,1114.1 88.9,1114.1 83.9,1111.8 L 75.0,1106.8" class="ch"/>
<path d="M 75.0,1106.8 L 75.0,1116.7 L 92.2,1124.9 C 97.1,1126.6 102.0,1125.9 107.0,1123.3 L 130.0,1110.1" class="ch"/>
<path d="M 75.7,1082.1 L 75.7,1088.7 C 79.0,1095.3 102.0,1095.3 105.3,1088.7 L 105.3,1082.1" class="ch"/>
<path d="M 75.7,1081.2 C 75.7,1076.3 82.3,1072.3 90.5,1072.3 C 98.7,1072.3 105.3,1076.3 105.3,1081.2 C 105.3,1086.1 98.7,1090.0 90.5,1090.0 C 82.3,1090.0 75.7,1086.1 75.7,1081.2 Z" class="chf"/>
<path d="M 111.9,1070.6 C 111.9,1068.4 114.8,1066.7 118.5,1066.7 C 122.1,1066.7 125.1,1068.4 125.1,1070.6 C 125.1,1072.8 122.1,1074.6 118.5,1074.6 C 114.8,1074.6 111.9,1072.8 111.9,1070.6 Z" class="ch"/>
<path d="M 130.0,1057.5 C 131.6,1050.9 138.2,1045.9 146.5,1045.9 L 153.0,1049.2" class="ch"/>
<path d="M 144.8,1047.6 L 210.6,1083.8" class="ch"/>
<path d="M 131.6,1060.8 L 197.5,1097.0" class="ch"/>
<path d="M 129.3,1098.6 L 161.3,1078.9 L 197.5,1095.3" class="ch"/>
<path d="M 129.3,1098.6 L 131.6,1105.2 L 164.6,1121.6 C 169.5,1123.3 174.4,1122.6 179.4,1120.0 L 197.5,1110.1" class="ch"/>
<path d="M 129.3,1098.6 L 129.3,1110.1 L 133.3,1116.7" class="ch"/>
<path d="M 163.9,1101.9 C 163.9,1099.4 167.6,1097.3 172.1,1097.3 C 176.7,1097.3 180.4,1099.4 180.4,1101.9 C 180.4,1104.4 176.7,1106.5 172.1,1106.5 C 167.6,1106.5 163.9,1104.4 163.9,1101.9 Z" class="ch"/>
<path d="M 166.5,1102.6 C 166.5,1100.9 169.0,1099.6 172.1,1099.6 C 175.2,1099.6 177.7,1100.9 177.7,1102.6 C 177.7,1104.2 175.2,1105.5 172.1,1105.5 C 169.0,1105.5 166.5,1104.2 166.5,1102.6 Z" class="ch"/>
<path d="M 116.8,1143.7 C 120.1,1140.4 125.1,1139.7 130.0,1141.4 L 161.3,1157.8 C 166.2,1161.1 171.1,1160.1 176.1,1157.2 L 189.2,1149.6 C 194.2,1148.0 199.1,1149.0 204.0,1151.3 L 441.0,1287.8 C 447.6,1291.8 454.2,1291.8 460.8,1287.8 L 467.3,1286.2 L 520.0,1315.8" class="ch"/>
<path d="M 187.6,1124.9 L 197.5,1120.0 L 447.6,1263.2 L 442.7,1264.8 L 200.8,1123.3" class="ch"/>
<path d="M 364.0,1112.8 C 364.0,1106.8 372.4,1101.9 382.8,1101.9 C 393.1,1101.9 401.5,1106.8 401.5,1112.8 C 401.5,1118.8 393.1,1123.6 382.8,1123.6 C 372.4,1123.6 364.0,1118.8 364.0,1112.8 Z" class="ch"/>
<path d="M 367.0,1112.1 C 367.0,1107.2 374.0,1103.2 382.8,1103.2 C 391.5,1103.2 398.6,1107.2 398.6,1112.1 C 398.6,1117.0 391.5,1121.0 382.8,1121.0 C 374.0,1121.0 367.0,1117.0 367.0,1112.1 Z" class="ch"/>
<path d="M 373.5,1112.8 L 391.6,1112.8 M 382.8,1107.5 L 382.8,1118.4 M 375.2,1110.1 L 378.5,1110.1 M 386.7,1116.0 L 391.0,1116.0" class="ch"/>
<path d="M 348.9,1116.7 L 365.3,1105.2" class="ch"/>
<path d="M 348.9,1116.7 L 348.9,1121.6 L 390.0,1133.2 L 391.6,1126.6" class="ch"/>
<path d="M 495.3,1133.2 C 495.3,1130.1 499.7,1127.6 505.2,1127.6 C 510.6,1127.6 515.1,1130.1 515.1,1133.2 C 515.1,1136.3 510.6,1138.8 505.2,1138.8 C 499.7,1138.8 495.3,1136.3 495.3,1133.2 Z" class="ch"/>
<path d="M 491.4,1133.2 C 491.4,1128.8 497.5,1125.3 505.2,1125.3 C 512.8,1125.3 519.0,1128.8 519.0,1133.2 C 519.0,1137.5 512.8,1141.1 505.2,1141.1 C 497.5,1141.1 491.4,1137.5 491.4,1133.2 Z" class="ch"/>
<path d="M 491.4,1133.2 L 491.4,1144.7 C 493.7,1151.3 516.7,1151.3 520.0,1146.3" class="ch"/>
<path d="M 488.7,1236.8 L 520.0,1218.7" class="ch"/>
<path d="M 488.7,1236.8 L 488.7,1245.1 L 520.0,1261.5" class="ch"/>
<path d="M 488.7,1236.8 L 520.0,1253.3" class="ch"/>
<path d="M 493.7,1291.1 L 493.7,1315.8 L 520.0,1330.6" class="ch"/>
<path d="M 520.0,1343.8 C 510.1,1347.1 506.8,1360.2 513.4,1368.5 L 520.0,1371.8" class="ch"/>
<path d="M 488.9,1235.3 L 678.2,1124.7 L 936.2,1273.6 L 936.2,1281.4 L 927.3,1286.7 L 930.9,1293.8 L 941.5,1295.6 L 955.7,1286.7 L 1000.0,1311.5" class="chf"/>
<path d="M 488.9,1235.3 L 810.4,1421.4 L 1000.0,1311.5" class="ch"/>
<path d="M 488.9,1235.3 L 488.9,1243.1 L 810.4,1429.2 L 1000.0,1319.7" class="ch"/>
<path d="M 810.4,1421.4 L 810.4,1429.2" class="ch"/>
<path d="M 600.2,1200.6 C 600.2,1191.8 612.6,1184.6 627.9,1184.6 C 643.1,1184.6 655.5,1191.8 655.5,1200.6 C 655.5,1209.4 643.1,1216.5 627.9,1216.5 C 612.6,1216.5 600.2,1209.4 600.2,1200.6 Z" class="ch"/>
<path d="M 607.3,1209.8 C 607.3,1204.3 614.9,1199.9 624.3,1199.9 C 633.7,1199.9 641.3,1204.3 641.3,1209.8 C 641.3,1215.3 633.7,1219.7 624.3,1219.7 C 614.9,1219.7 607.3,1215.3 607.3,1209.8 Z" class="ch"/>
<path d="M 617.2,1209.8 L 631.4,1209.8 M 624.3,1205.2 L 624.3,1214.8" class="ch"/>
<path d="M 601.3,1203.4 C 606.6,1214.1 638.5,1219.4 654.4,1207.0" class="ch"/>
<path d="M 440.0,1143.2 C 475.4,1152.0 510.9,1171.5 542.8,1191.0" class="ch"/>
<path d="M 486.1,1090.0 C 507.3,1114.8 532.2,1134.3 560.5,1148.5 L 592.4,1166.2" class="ch"/>
<path d="M 571.1,1090.0 C 581.8,1100.6 592.4,1107.7 606.6,1114.8 L 642.0,1137.8" class="ch"/>
<path d="M 440.0,1192.8 L 546.3,1203.4" class="ch"/>
<path d="M 440.0,1247.7 L 488.9,1235.3" class="ch"/>
<path d="M 440.0,1256.6 L 489.6,1246.0" class="ch"/>
<path d="M 492.5,1131.8 C 492.5,1127.9 498.0,1124.7 504.9,1124.7 C 511.7,1124.7 517.3,1127.9 517.3,1131.8 C 517.3,1135.7 511.7,1138.9 504.9,1138.9 C 498.0,1138.9 492.5,1135.7 492.5,1131.8 Z" class="ch"/>
<path d="M 497.8,1132.5 C 497.8,1130.4 500.9,1128.6 504.9,1128.6 C 508.8,1128.6 512.0,1130.4 512.0,1132.5 C 512.0,1134.7 508.8,1136.4 504.9,1136.4 C 500.9,1136.4 497.8,1134.7 497.8,1132.5 Z" class="ch"/>
<path d="M 492.5,1132.5 L 492.5,1143.2 C 496.7,1151.0 514.4,1151.0 517.3,1143.2 L 517.3,1132.5" class="ch"/>
<path d="M 688.1,1090.0 L 858.2,1187.5" class="ch"/>
<path d="M 774.9,1120.1 L 909.6,1196.3 C 913.2,1201.6 909.6,1207.0 900.8,1210.5" class="ch"/>
<path d="M 750.1,1136.1 L 774.9,1121.9 L 774.9,1136.1" class="ch"/>
<path d="M 656.2,1090.0 L 684.6,1105.9" class="ch"/>
<path d="M 730.6,1090.0 L 879.5,1175.1" class="ch"/>
<path d="M 946.8,1221.1 C 946.8,1212.3 961.0,1203.4 978.7,1202.7 L 1000.0,1207.0" class="ch"/>
<path d="M 946.8,1221.1 L 946.8,1238.9 C 950.4,1242.4 957.5,1243.1 964.6,1242.4 L 1000.0,1243.1" class="ch"/>
<path d="M 971.7,1222.9 C 971.7,1219.0 977.2,1215.8 984.1,1215.8 C 990.9,1215.8 996.5,1219.0 996.5,1222.9 C 996.5,1226.8 990.9,1230.0 984.1,1230.0 C 977.2,1230.0 971.7,1226.8 971.7,1222.9 Z" class="ch"/>
<path d="M 977.0,1224.0 C 977.0,1221.8 980.1,1220.1 984.1,1220.1 C 988.0,1220.1 991.1,1221.8 991.1,1224.0 C 991.1,1226.1 988.0,1227.9 984.1,1227.9 C 980.1,1227.9 977.0,1226.1 977.0,1224.0 Z" class="ch"/>
<path d="M 936.6,1253.7 L 936.6,1261.9 C 939.8,1269.0 962.8,1269.0 966.3,1261.9 L 966.3,1253.7" class="ch"/>
<path d="M 936.6,1253.0 C 936.6,1248.3 943.2,1244.5 951.4,1244.5 C 959.7,1244.5 966.3,1248.3 966.3,1253.0 C 966.3,1257.7 959.7,1261.5 951.4,1261.5 C 943.2,1261.5 936.6,1257.7 936.6,1253.0 Z" class="chf"/>
<path d="M 842.3,1090.0 L 842.3,1107.7 L 852.9,1116.6 L 900.8,1125.4 L 922.0,1114.8 L 922.0,1105.9 L 890.1,1090.0" class="ch"/>
<path d="M 877.7,1143.2 L 897.2,1134.3 L 957.5,1166.2 L 936.2,1176.8 Z" class="ch"/>
<path d="M 886.6,1144.9 L 897.2,1139.6 L 911.4,1146.7 L 900.8,1153.1 Z" class="ch"/>
<path d="M 914.9,1132.5 C 929.1,1134.3 943.3,1141.4 950.4,1150.3" class="ch"/>
<path d="M 957.5,1121.9 C 961.0,1111.3 971.7,1111.3 978.7,1116.6 L 982.3,1185.7" class="ch"/>
<path d="M 959.2,1129.0 L 961.0,1178.6" class="ch"/>
<path d="M 858.2,1152.0 L 876.0,1143.2 L 936.2,1176.8 L 936.2,1192.8" class="ch"/>
<path d="M 909.6,1196.3 L 943.3,1196.3 L 1000.0,1171.5" class="ch"/>
<path d="M 440.0,1288.5 C 447.1,1292.0 454.2,1290.3 461.3,1286.7 C 475.4,1281.4 486.1,1288.5 493.2,1292.0 L 542.8,1320.4 C 546.3,1323.9 544.6,1329.2 542.8,1331.0" class="ch"/>
<path d="M 542.8,1331.0 C 553.4,1334.6 560.5,1327.5 571.1,1325.7 C 581.8,1324.6 588.9,1331.0 596.0,1338.1 C 599.5,1345.2 597.7,1352.3 603.0,1355.8 C 610.1,1359.4 620.8,1352.3 631.4,1354.1 L 652.7,1366.5" class="ch"/>
<path d="M 493.2,1292.0 L 493.2,1320.4 L 610.1,1384.2 L 610.1,1373.5" class="ch"/>
<path d="M 532.2,1341.6 L 613.7,1384.2" class="ch"/>
<path d="M 555.2,1305.1 L 555.2,1313.3 C 558.7,1320.4 581.8,1320.4 585.3,1313.3 L 585.3,1305.1" class="ch"/>
<path d="M 555.2,1304.4 C 555.2,1299.7 561.9,1295.9 570.1,1295.9 C 578.3,1295.9 585.0,1299.7 585.0,1304.4 C 585.0,1309.1 578.3,1312.9 570.1,1312.9 C 561.9,1312.9 555.2,1309.1 555.2,1304.4 Z" class="chf"/>
<path d="M 509.1,1362.9 C 505.6,1352.3 510.9,1343.4 521.5,1341.6 L 532.2,1343.4" class="ch"/>
<path d="M 509.1,1362.9 L 546.3,1384.2 C 549.9,1377.1 557.0,1373.5 564.1,1373.5" class="ch"/>
<path d="M 546.3,1364.7 C 546.3,1355.8 557.0,1352.3 565.8,1354.1 C 574.7,1355.8 580.0,1361.1 578.2,1368.2" class="ch"/>
<path d="M 546.3,1389.5 C 553.4,1384.2 560.5,1391.3 567.6,1391.3 L 610.1,1398.4 L 617.2,1393.0 L 682.8,1359.4 L 709.4,1373.5" class="ch"/>
<path d="M 610.1,1398.4 C 608.4,1403.7 611.9,1407.2 617.2,1409.0 L 626.1,1424.9 L 633.2,1419.6 L 617.2,1409.0" class="ch"/>
<path d="M 592.4,1412.5 C 578.2,1416.1 574.7,1426.7 571.1,1435.6 L 516.2,1465.7" class="ch"/>
<path d="M 596.0,1455.1 C 597.7,1444.4 592.4,1439.1 583.5,1439.1 L 549.9,1486.3" class="ch"/>
<path d="M 554.5,1460.4 C 554.5,1458.8 558.0,1457.5 562.3,1457.5 C 566.6,1457.5 570.1,1458.8 570.1,1460.4 C 570.1,1462.0 566.6,1463.2 562.3,1463.2 C 558.0,1463.2 554.5,1462.0 554.5,1460.4 Z" class="ch"/>
<path d="M 574.7,1504.7 L 736.0,1411.8 L 746.6,1419.6 L 748.4,1487.0 C 750.1,1494.1 755.4,1495.8 762.5,1492.3 L 767.9,1481.6" class="ch"/>
<path d="M 574.7,1504.7 L 574.7,1674.8 L 792.7,1549.0" class="ch"/>
<path d="M 549.9,1486.3 L 688.1,1407.2" class="ch"/>
<path d="M 516.2,1465.7 L 546.3,1448.7" class="ch"/>
<path d="M 709.4,1373.5 C 720.0,1370.0 728.9,1377.1 727.1,1386.0 L 723.5,1389.5" class="ch"/>
<path d="M 700.5,1377.1 L 709.4,1373.5 L 720.0,1389.5" class="ch"/>
<path d="M 574.7,1513.5 L 617.2,1482.4" class="chh"/>
<path d="M 574.7,1520.6 L 616.9,1489.8" class="chh"/>
<path d="M 574.7,1527.7 L 616.5,1497.2" class="chh"/>
<path d="M 574.7,1534.8 L 616.2,1504.7" class="chh"/>
<path d="M 574.7,1541.9 L 615.8,1512.1" class="chh"/>
<path d="M 574.7,1549.0 L 615.4,1519.6" class="chh"/>
<path d="M 574.7,1556.1 L 615.1,1527.0" class="chh"/>
<path d="M 574.7,1563.2 L 614.7,1534.5" class="chh"/>
<path d="M 574.7,1570.3 L 614.4,1541.9" class="chh"/>
<path d="M 574.7,1577.3 L 614.0,1549.3" class="chh"/>
<path d="M 574.7,1584.4 L 613.7,1556.8" class="chh"/>
<path d="M 574.7,1591.5 L 613.3,1564.2" class="chh"/>
<path d="M 574.7,1598.6 L 613.0,1571.7" class="chh"/>
<path d="M 574.7,1605.7 L 612.6,1579.1" class="chh"/>
<path d="M 574.7,1612.8 L 612.3,1586.6" class="chh"/>
<path d="M 574.7,1619.9 L 611.9,1594.0" class="chh"/>
<path d="M 574.7,1627.0 L 611.5,1601.4" class="chh"/>
<path d="M 574.7,1634.1 L 611.2,1608.9" class="chh"/>
<path d="M 574.7,1641.1 L 610.8,1616.3" class="chh"/>
<path d="M 574.7,1648.2 L 610.5,1623.8" class="chh"/>
<path d="M 574.7,1655.3 L 610.1,1631.2" class="chh"/>
<path d="M 574.7,1662.4 L 609.8,1638.7" class="chh"/>
<path d="M 621.5,1520.6 C 621.5,1512.4 626.7,1505.8 633.2,1505.8 C 639.6,1505.8 644.9,1512.4 644.9,1520.6 C 644.9,1528.9 639.6,1535.5 633.2,1535.5 C 626.7,1535.5 621.5,1528.9 621.5,1520.6 Z" class="ch"/>
<path d="M 624.3,1520.6 C 624.3,1514.2 628.3,1508.9 633.2,1508.9 C 638.1,1508.9 642.0,1514.2 642.0,1520.6 C 642.0,1527.1 638.1,1532.3 633.2,1532.3 C 628.3,1532.3 624.3,1527.1 624.3,1520.6 Z" class="ch"/>
<path d="M 627.9,1520.6 L 638.5,1520.6 M 633.2,1514.6 L 633.2,1526.7" class="ch"/>
<path d="M 783.1,1497.6 L 838.7,1467.5 L 838.7,1510.0 L 783.1,1540.1 Z" class="ch"/>
<path d="M 783.1,1497.6 L 767.9,1481.6 L 822.8,1451.5 L 838.7,1467.5" class="ch"/>
<path d="M 858.2,1455.1 L 913.2,1423.2 L 913.2,1465.7 L 858.2,1497.6 Z" class="ch"/>
<path d="M 858.2,1455.1 L 842.3,1439.1 L 897.2,1407.2 L 913.2,1423.2" class="ch"/>
<path d="M 785.6,1501.1 L 836.3,1472.1 L 836.3,1507.5 L 785.6,1536.6 Z" class="ch"/>
<path d="M 860.7,1458.6 L 910.7,1427.4 L 910.7,1462.9 L 860.7,1494.1 Z" class="ch"/>
<path d="M 789.1,1518.9 C 798.0,1526.0 808.6,1524.2 815.7,1523.1 L 836.3,1510.0" class="ch"/>
<path d="M 863.5,1476.3 C 872.4,1483.4 883.0,1481.6 890.1,1479.9 L 910.7,1466.4" class="ch"/>
<path d="M 794.4,1541.9 L 930.9,1462.2 L 936.2,1465.7 L 939.8,1490.5 C 918.5,1515.3 883.0,1540.1 851.1,1549.0 L 805.1,1545.4 Z" class="ch"/>
<path d="M 801.5,1540.1 L 851.1,1545.4 C 879.5,1536.6 911.4,1515.3 934.4,1487.0" class="ch"/>
<path d="M 952.2,1398.4 L 985.8,1377.1 L 991.1,1378.9 L 991.1,1409.0 L 957.5,1430.3 L 952.2,1428.5 Z" class="ch"/>
<path d="M 957.5,1401.9 L 985.8,1384.2 L 985.8,1407.2 L 959.2,1424.9 Z" class="ch"/>
<path d="M 913.2,1405.4 L 1000.0,1355.8" class="ch"/>
<path d="M 792.7,1549.0 L 1000.0,1428.5" class="ch"/>
<path d="M 748.4,1472.8 L 815.7,1435.6" class="ch"/>
<path d="M 750.1,1439.1 L 773.2,1426.7" class="ch"/>
<path d="M 829.9,1416.1 C 847.6,1419.6 865.3,1409.0 876.0,1398.4" class="ch"/>
<path d="M 914.9,1370.0 C 936.2,1366.5 953.9,1355.8 964.6,1341.6" class="ch"/>
<path d="M 1580.0,1187.3 C 1572.7,1198.4 1558.0,1205.7 1543.3,1213.0 C 1513.9,1224.1 1458.9,1231.4 1403.8,1227.7 L 1352.4,1225.9 C 1337.7,1227.7 1323.0,1238.7 1312.0,1249.7 L 1301.0,1262.6 L 1310.2,1273.6 L 1209.2,1330.5 L 1211.1,1343.4" class="ch"/>
<path d="M 1580.0,1196.5 C 1565.3,1209.4 1543.3,1218.5 1521.3,1222.2 C 1477.2,1231.4 1422.2,1235.1 1396.5,1235.1" class="ch"/>
<path d="M 1543.3,1218.5 C 1539.6,1242.4 1524.9,1260.8 1502.9,1269.9 L 1488.2,1268.1 L 1477.2,1271.8 L 1348.7,1273.6 L 1343.2,1277.3" class="ch"/>
<path d="M 1343.2,1277.3 L 1343.2,1253.4" class="ch"/>
<path d="M 1344.3,1246.8 C 1344.3,1238.3 1356.5,1231.4 1371.5,1231.4 C 1386.5,1231.4 1398.7,1238.3 1398.7,1246.8 C 1398.7,1255.3 1386.5,1262.2 1371.5,1262.2 C 1356.5,1262.2 1344.3,1255.3 1344.3,1246.8 Z" class="chf"/>
<path d="M 1343.2,1277.3 C 1330.4,1282.8 1323.0,1297.5 1312.0,1308.5 C 1293.7,1323.2 1257.0,1341.5 1234.9,1367.2" class="ch"/>
<path d="M 1484.6,1277.3 L 1484.6,1286.5 L 1220.3,1437.0 L 1209.2,1429.6 L 1201.9,1433.3" class="ch"/>
<path d="M 1211.1,1361.7 C 1220.3,1363.5 1234.9,1365.4 1242.3,1367.2" class="ch"/>
<path d="M 1234.9,1367.2 C 1238.6,1374.6 1238.6,1380.1 1234.9,1381.9" class="ch"/>
<path d="M 1301.0,1262.6 L 1205.6,1317.7" class="ch"/>
<path d="M 1310.2,1276.2 L 1211.1,1334.2" class="ch"/>
<path d="M 1093.6,1413.1 L 1146.8,1381.9 C 1157.9,1378.2 1168.9,1385.6 1176.2,1392.9 L 1200.1,1418.6 L 1201.9,1437.0 L 1128.5,1484.7 C 1123.0,1486.5 1120.4,1482.9 1119.3,1477.3 L 1119.3,1453.5 C 1113.8,1440.6 1102.8,1429.6 1093.6,1422.3 Z" class="chf"/>
<path d="M 1135.8,1361.7 L 1170.7,1341.5 L 1205.6,1356.2 L 1203.7,1361.7 L 1172.5,1376.4 C 1167.0,1378.2 1161.5,1376.4 1157.9,1373.8 L 1135.8,1367.2 Z" class="ch"/>
<path d="M 1126.6,1378.2 L 1135.8,1370.9 L 1157.9,1380.1" class="ch"/>
<path d="M 1209.2,1330.5 L 1194.6,1339.7" class="ch"/>
<path d="M 1172.5,1341.5 L 1190.9,1350.7 L 1209.2,1341.5" class="ch"/>
<path d="M 1000.0,1420.4 L 1016.5,1411.3 L 1034.9,1403.9 L 1044.1,1409.4 L 1084.4,1433.3 L 1093.6,1433.3" class="ch"/>
<path d="M 1000.0,1429.6 L 1014.7,1422.3 L 1014.7,1414.9" class="ch"/>
<path d="M 1053.2,1389.2 L 1062.4,1381.9 L 1088.1,1370.9 L 1110.1,1383.7 L 1121.1,1381.9 L 1126.6,1378.2" class="ch"/>
<path d="M 1053.2,1389.2 L 1053.2,1400.3 L 1088.1,1424.1" class="ch"/>
<path d="M 1089.9,1389.2 C 1091.8,1383.7 1099.1,1381.9 1102.8,1385.6 L 1102.8,1392.9" class="ch"/>
<path d="M 1148.7,1180.0 L 1148.7,1191.0 L 1150.5,1257.1 C 1152.3,1264.4 1157.9,1266.3 1165.2,1262.6 L 1227.6,1227.7 L 1220.3,1222.2 L 1183.5,1213.0 L 1179.9,1205.7 L 1198.2,1194.7" class="ch"/>
<path d="M 1071.6,1216.7 L 1069.7,1301.1 C 1067.9,1312.2 1062.4,1317.7 1055.1,1321.3 L 1000.0,1352.5" class="ch"/>
<path d="M 1055.1,1216.7 L 1058.7,1209.4 L 1073.4,1216.7 L 1075.3,1231.4 L 1071.6,1235.1" class="ch"/>
<path d="M 1055.1,1216.7 L 1055.1,1257.1 L 1000.0,1286.5" class="ch"/>
<path d="M 1160.4,1282.8 C 1164.5,1283.5 1165.9,1289.4 1163.4,1293.8 C 1160.8,1296.7 1157.1,1294.5 1157.1,1289.4 C 1157.1,1285.7 1158.6,1283.5 1160.4,1282.8 Z" class="ch"/>
<path d="M 1137.7,1303.0 C 1143.9,1303.7 1143.9,1318.4 1132.9,1326.5 C 1125.5,1325.7 1127.4,1307.4 1137.7,1303.0 Z" class="ch"/>
<path d="M 1106.8,1320.6 C 1113.1,1321.3 1113.1,1336.0 1102.1,1344.1 C 1094.7,1343.4 1096.5,1325.0 1106.8,1320.6 Z" class="ch"/>
<path d="M 1076.4,1339.0 C 1082.6,1339.7 1082.6,1354.4 1071.6,1362.4 C 1064.2,1361.7 1066.1,1343.4 1076.4,1339.0 Z" class="ch"/>
<path d="M 1020.2,1367.2 C 1020.2,1357.5 1026.8,1349.6 1034.9,1349.6 C 1043.0,1349.6 1049.6,1357.5 1049.6,1367.2 C 1049.6,1376.9 1043.0,1384.8 1034.9,1384.8 C 1026.8,1384.8 1020.2,1376.9 1020.2,1367.2 Z" class="ch"/>
<path d="M 1028.6,1368.0 C 1028.6,1362.7 1032.2,1358.4 1036.7,1358.4 C 1041.2,1358.4 1044.8,1362.7 1044.8,1368.0 C 1044.8,1373.2 1041.2,1377.5 1036.7,1377.5 C 1032.2,1377.5 1028.6,1373.2 1028.6,1368.0 Z" class="ch"/>
<path d="M 1036.7,1361.7 L 1036.7,1368.0" class="ch"/>
<path d="M 1087.0,1224.1 L 1134.7,1196.5" class="chh"/>
<path d="M 1087.0,1229.6 L 1134.7,1202.0" class="chh"/>
<path d="M 1087.0,1235.1 L 1134.7,1207.5" class="chh"/>
<path d="M 1087.0,1240.6 L 1134.7,1213.0" class="chh"/>
<path d="M 1087.0,1246.1 L 1134.7,1218.5" class="chh"/>
<path d="M 1087.0,1251.6 L 1134.7,1224.1" class="chh"/>
<path d="M 1087.0,1257.1 L 1134.7,1229.6" class="chh"/>
<path d="M 1087.0,1262.6 L 1134.7,1235.1" class="chh"/>
<path d="M 1087.0,1268.1 L 1134.7,1240.6" class="chh"/>
<path d="M 1087.0,1273.6 L 1134.7,1246.1" class="chh"/>
<path d="M 1087.0,1279.1 L 1134.7,1251.6" class="chh"/>
<path d="M 1087.0,1284.6 L 1134.7,1257.1" class="chh"/>
<path d="M 1201.9,1290.1 L 1203.7,1253.4 L 1212.9,1247.9 L 1249.6,1207.5 L 1257.0,1209.4 L 1257.0,1227.7" class="ch"/>
<path d="M 1201.9,1290.1 L 1308.4,1271.8" class="ch"/>
<path d="M 1212.9,1281.0 L 1264.3,1251.6 L 1264.3,1216.7" class="ch"/>
<path d="M 1280.8,1196.5 L 1282.7,1249.7 L 1343.2,1216.7 L 1407.5,1180.0" class="ch"/>
<path d="M 1279.0,1194.7 L 1304.7,1180.0" class="ch"/>
<path d="M 1285.2,1205.7 C 1285.2,1198.6 1289.8,1192.8 1295.5,1192.8 C 1301.2,1192.8 1305.8,1198.6 1305.8,1205.7 C 1305.8,1212.8 1301.2,1218.5 1295.5,1218.5 C 1289.8,1218.5 1285.2,1212.8 1285.2,1205.7 Z" class="ch"/>
<path d="M 1288.2,1205.7 C 1288.2,1200.4 1291.5,1196.2 1295.5,1196.2 C 1299.6,1196.2 1302.9,1200.4 1302.9,1205.7 C 1302.9,1211.0 1299.6,1215.2 1295.5,1215.2 C 1291.5,1215.2 1288.2,1211.0 1288.2,1205.7 Z" class="ch"/>
<path d="M 1290.7,1201.3 L 1300.3,1210.1 M 1300.3,1201.3 L 1290.7,1210.1" class="ch"/>
<path d="M 1311.3,1216.0 C 1311.3,1213.5 1312.9,1211.6 1315.0,1211.6 C 1317.0,1211.6 1318.6,1213.5 1318.6,1216.0 C 1318.6,1218.4 1317.0,1220.4 1315.0,1220.4 C 1312.9,1220.4 1311.3,1218.4 1311.3,1216.0 Z" class="ch"/>
<path d="M 1319.4,1202.0 L 1367.1,1180.0" class="ch"/>
<path d="M 1343.2,1216.7 L 1343.2,1205.7 L 1389.1,1180.0" class="ch"/>
<path d="M 1011.4,1314.0 L 1011.4,1293.8 M 1014.3,1315.1 L 1014.3,1293.8" class="ch"/>
<path d="M 1018.7,1319.5 L 1018.7,1299.3 M 1021.7,1320.6 L 1021.7,1299.3" class="ch"/>
<path d="M 1026.1,1323.2 L 1026.1,1303.0 M 1029.0,1324.3 L 1029.0,1303.0" class="ch"/>
<path d="M 1000.0,1306.6 L 1033.0,1321.3 L 1033.0,1317.7 L 1000.0,1303.0" class="ch"/>
<path d="M 1000.0,1216.7 C 1011.0,1218.5 1016.5,1224.1 1016.5,1231.4 C 1014.7,1242.4 1007.3,1247.9 1000.0,1249.7" class="ch"/>
<path d="M 1009.2,1185.5 L 1014.7,1180.0 M 1009.2,1185.5 L 1011.0,1196.5 L 1029.4,1205.7 L 1031.2,1194.7 C 1025.7,1191.0 1018.4,1189.2 1012.8,1191.0" class="ch"/>
<path d="M406.5,518.4 C410.4,505.5 421.6,465.2 429.9,441.3 C438.2,417.4 447.6,394.3 456.5,374.8 C465.4,355.3 474.1,338.5 483.0,324.3 C491.9,310.1 500.3,299.4 509.6,289.7 C518.9,279.9 527.8,272.9 538.9,265.8 C550.0,258.7 563.3,251.8 576.1,247.2 C588.9,242.5 602.6,240.0 615.9,237.9 C629.2,235.8 642.5,235.1 655.8,234.5 C669.1,233.9 682.4,234.0 695.7,234.5 C709.0,235.0 722.4,235.7 735.6,237.4 C748.8,239.2 768.4,243.7 775.0,245.0 L690.0,308.0 C684.3,306.5 666.4,301.1 655.8,299.0 C645.2,296.9 639.0,295.7 626.6,295.1 C614.2,294.5 590.7,295.2 581.4,295.6 C572.1,296.0 577.9,295.1 570.8,297.7 C563.7,300.3 548.6,305.2 538.9,311.0 C529.1,316.8 520.3,323.9 512.3,332.3 C504.3,340.7 498.1,349.6 491.0,361.5 C483.9,373.4 477.0,386.7 469.7,404.0 C462.4,421.3 453.8,445.0 447.2,465.2 C440.6,485.4 432.8,515.0 429.9,525.0 Z" fill="#a0a0a0"/>
<circle cx="418.2" cy="521.5" r="12.2" fill="#a0a0a0"/>
<path class="bkh" stroke-width="5" d="M985.7,676 L985.7,859 L959,845.2 L1012.5,958.8 L1066.4,907.7 L1039.9,889.8 L1039.9,684 Z"/>
<ellipse cx="574.2" cy="869.8" rx="8.6" ry="4.9" fill="#e8e8e8" stroke="#111" stroke-width="1.5"/>
<ellipse cx="574.2" cy="871.0" rx="5.6" ry="2.6" fill="#fff" stroke="#bbb" stroke-width="0.8"/>
<ellipse cx="785.6" cy="738.4" rx="8.6" ry="4.9" fill="#e8e8e8" stroke="#111" stroke-width="1.5"/>
<ellipse cx="785.6" cy="739.6" rx="5.6" ry="2.6" fill="#fff" stroke="#bbb" stroke-width="0.8"/>
<ellipse cx="1280.8" cy="1108.6" rx="8.6" ry="4.9" fill="#e8e8e8" stroke="#111" stroke-width="1.5"/>
<ellipse cx="1280.8" cy="1109.8" rx="5.6" ry="2.6" fill="#fff" stroke="#bbb" stroke-width="0.8"/>
<path class="dshw" d="M574.55,417.0 V869.0"/>
<path class="dsh" d="M574.55,418.0 V868.0" stroke-dashoffset="11.45"/>
<path class="dshw" d="M786.80,517.0 V737.0"/>
<path class="dsh" d="M786.80,518.0 V736.0" stroke-dashoffset="3.05"/>
<path class="dshw" d="M1280.60,649.0 V1107.0"/>
<path class="dsh" d="M1280.60,650.0 V1106.0" stroke-dashoffset="13.10"/>
<path class="dshw" d="M1338.20,625.0 V1065.0"/>
<path class="dsh" d="M1338.20,626.0 V1064.0" stroke-dashoffset="2.65"/>
<path class="gf" d="M553.7,400.2 L553.7,372.7 L558.6,359.7 L574.6,351.8 L590.9,361.6 L615.2,361.0 L615.2,317.2 L671.0,317.2 L671.0,304.7 L674.4,300.5 L764.0,248.9 L765.0,241.6 L778.9,222.3 L794.0,220.4 L794.8,183.7 L801.0,173.0 L811.5,167.6 L818.7,169.5 L822.9,174.2 L823.3,184.7 L828.6,189.4 L840.0,198.9 L858.0,209.7 L866.6,207.5 L877.0,207.1 L921.6,181.3 L929.2,179.0 L937.8,181.3 L964.4,196.5 L967.6,199.9 L989.0,212.2 L993.8,209.4 L1000.4,209.7 L1039.4,232.2 L1047.0,240.0 L1051.1,248.3 L1140.0,301.0 L1284.3,384.5 L1289.0,380.7 L1297.6,380.7 L1335.6,402.5 L1345.1,416.8 L1356.5,427.2 L1370.7,455.7 L1400.1,473.7 L1403.0,477.5 L1403.0,535.4 L1421.0,545.9 L1426.7,557.3 L1426.7,563.9 L1419.1,571.5 L1300.4,639.4 L1291.9,646.0 L1276.7,650.4 L1269.1,648.5 L1248.2,637.5 L1187.5,671.6 L1185.6,692.5 L1174.2,703.9 L1168.5,706.8 L1143.8,711.5 L1143.8,722.9 L1140.0,722.0 L1058.4,673.5 L1054.6,676.4 L1029.9,691.6 L1018.5,692.5 L931.1,647.0 L926.4,637.5 L931.1,629.9 L955.8,615.6 L900.0,582.5 L694.9,463.5 L612.3,418.9 L611.4,404.3 L600.4,398.5 L584.0,406.8 L566.6,411.0 Z"/>
<path d="M 571.3,301.5 L 589.0,294.4 L 589.7,291.0 L 596.0,286.8 L 600.4,289.1 L 605.5,285.9 L 611.8,284.4 L 619.7,286.3 L 624.9,291.4 L 624.5,298.2 L 616.9,301.5 L 615.2,303.0 L 615.2,364.1 L 571.3,364.1 Z" class="gf"/>
<path d="M 579.5,300.1 L 589.0,294.4 L 589.7,291.0 L 596.0,286.8 L 600.4,289.1 L 605.5,285.9 L 611.8,284.4 L 619.7,286.3 L 624.9,291.4 L 624.5,298.2 L 616.9,301.5 L 615.2,303.0 L 615.2,317.2" class="tk"/>
<path d="M 615.2,317.2 C 616.9,315.3 621.6,314.6 625.8,314.6 L 663.4,314.6" class="tk"/>
<path d="M 674.4,300.5 L 764.0,248.9" class="tk"/>
<path d="M 558.6,359.7 C 555.2,363.2 553.7,367.0 553.7,372.7 L 553.7,400.2 C 554.1,404.9 558.0,407.8 566.6,411.0" class="tk"/>
<path d="M 584.1,406.8 L 600.4,398.5 L 612.2,406.5 L 612.2,420.5 L 643.5,439.1" class="tk"/>
<path d="M 565.6,409.1 C 565.6,415.4 570.4,416.7 574.6,416.7 C 578.9,416.7 584.1,415.4 584.1,408.7 Z" class="bk"/>
<path d="M 568.5,409.1 C 570.4,411.0 578.9,411.0 581.0,408.7 Z" class="gf"/>
<path d="M 615.2,317.2 L 615.2,361.6" class="md"/>
<path d="M 579.5,300.5 L 591.3,307.2 C 596.0,309.6 602.7,309.0 606.8,306.6 L 615.2,302.0" class="tn"/>
<path d="M 589.7,291.0 L 597.0,287.6 L 606.8,294.4 C 608.4,296.3 607.4,298.2 604.6,299.6 L 600.4,301.5 C 597.9,302.0 595.4,300.9 593.2,298.6 L 590.3,295.2" class="tn"/>
<path d="M 558.2,361.6 L 558.2,367.9 C 559.0,374.6 566.6,378.0 574.6,378.0 C 583.7,378.0 590.9,373.6 590.9,367.9 L 590.9,361.6 Z" class="gft"/>
<path d="M 558.2,361.6 C 558.2,356.2 565.5,351.8 574.6,351.8 C 583.6,351.8 590.9,356.2 590.9,361.6 C 590.9,367.1 583.6,371.5 574.6,371.5 C 565.5,371.5 558.2,367.1 558.2,361.6 Z" class="gft"/>
<path d="M 590.9,364.1 C 597.0,367.3 603.6,366.6 609.3,362.8 L 615.2,361.3" class="tn"/>
<path d="M 554.8,372.7 C 558.0,381.2 572.3,385.6 584.6,381.2 L 600.4,371.1 L 636.8,390.7" class="tn"/>
<path d="M 615.2,331.8 L 633.0,341.3 L 633.0,353.7 L 615.2,362.8" class="tn"/>
<path d="M 633.0,342.3 L 638.7,345.5 L 638.7,338.9 L 644.0,341.7" class="tn"/>
<path d="M 640.1,359.4 C 638.7,362.2 638.4,365.1 638.4,367.9 L 636.8,387.8 L 636.8,416.3 C 637.8,429.6 641.6,436.3 647.3,440.6 L 672.9,456.2" class="md"/>
<path d="M 640.6,368.9 L 639.1,387.8 L 639.1,416.3 C 640.1,428.1 643.5,434.4 648.6,438.5" class="tn"/>
<path d="M 740.0,263.3 L 765.3,248.1 L 765.3,238.0 C 766.3,228.9 773.4,221.8 782.5,220.8" class="tk"/>
<path d="M 791.6,219.7 L 794.7,179.2 C 795.2,176.2 796.7,175.2 798.7,174.2 L 810.9,167.6 L 812.9,168.1 L 821.0,174.2 C 822.5,175.7 823.0,177.2 823.0,180.3 L 823.2,186.3 L 826.1,189.9 L 858.5,210.1 C 861.5,208.1 866.6,207.6 870.6,207.6 L 877.7,207.6 L 900.0,194.9" class="tk"/>
<path d="M 798.2,220.8 L 800.8,183.3 C 801.8,179.2 805.8,176.2 809.9,175.7 C 812.9,176.2 813.9,179.2 814.4,183.3 L 814.9,189.4 C 815.4,191.4 817.0,192.9 819.0,194.4 L 851.9,214.7 L 832.7,225.8" class="tn"/>
<path d="M 793.7,220.8 L 798.2,223.3" class="tn"/>
<path d="M 792.7,220.8 L 809.9,215.2 L 846.3,237.0 L 847.3,238.0" class="tn"/>
<path d="M 766.8,249.1 L 800.8,226.3 L 808.9,223.6 C 812.9,222.0 819.0,222.3 821.0,222.8" class="tn"/>
<path d="M 770.4,243.0 C 768.9,234.9 772.4,226.8 780.5,223.3" class="tn"/>
<path d="M 790.6,220.8 C 796.7,221.8 800.8,224.8 800.8,226.8" class="tn"/>
<path d="M 782.0,228.1 L 783.5,228.9 M 788.6,228.1 L 790.1,227.3 M 782.0,232.1 L 783.5,231.4 M 788.6,232.1 L 790.3,232.9 M 781.0,229.9 L 782.5,229.9 M 789.6,229.9 L 791.1,229.9" class="tn"/>
<path d="M 838.7,229.9 L 859.5,217.9 L 875.7,209.6" class="tn"/>
<path d="M 845.3,234.9 L 854.4,229.9" class="tn"/>
<path d="M 859.5,217.9 C 855.4,220.8 852.9,226.8 852.4,232.9" class="tn"/>
<path d="M 847.5,235.9 L 900.0,204.6" class="tn"/>
<path d="M 879.7,216.2 C 886.8,214.7 893.9,216.7 900.0,220.8" class="tn"/>
<path d="M 748.1,320.0 L 802.3,288.6" class="tn"/>
<path d="M 802.3,285.1 L 825.6,270.9 L 847.3,283.5 L 824.1,297.7 Z" class="tn"/>
<path d="M 802.3,285.1 L 802.3,288.6 L 824.1,301.3 L 824.1,297.7" class="tn"/>
<path d="M 824.1,301.3 L 845.8,288.6 L 847.3,283.5 M 845.8,288.6 L 844.3,292.7" class="tn"/>
<path d="M 792.7,320.0 L 824.1,301.8 M 824.1,301.3 L 831.6,305.8" class="tn"/>
<path d="M 809.9,320.0 L 908.3,262.5" class="tn"/>
<path d="M 831.1,271.4 L 863.5,253.7 L 883.8,265.3 L 886.3,263.3 L 886.3,265.8" class="tn"/>
<path d="M 847.8,284.4 L 883.8,264.8" class="tn"/>
<path d="M 846.1,289.1 L 885.8,266.1" class="tn"/>
<path d="M 863.5,253.7 L 871.1,251.6 L 871.6,257.2 L 883.8,264.3" class="tn"/>
<path d="M 871.1,251.6 L 881.8,246.1 L 908.3,262.5" class="tn"/>
<path d="M 882.3,247.3 L 906.6,261.3" class="tn"/>
<path d="M 640.0,314.8 L 664.3,314.8 C 667.3,315.3 669.4,316.8 671.4,319.4 L 671.4,303.2 L 674.9,300.1 L 692.6,290.0" class="tk"/>
<path d="M 640.0,336.6 L 670.4,319.6" class="tn"/>
<path d="M 648.1,338.4 L 676.7,320.0 C 679.0,318.7 682.5,319.2 684.8,320.6 L 691.8,324.9 L 712.4,314.3 L 713.1,314.9" class="tn"/>
<path d="M 660.8,338.4 L 686.1,323.9" class="tn"/>
<path d="M 648.1,338.4 C 647.1,340.1 648.1,341.6 650.1,342.7 L 657.2,346.7 C 660.3,349.2 661.8,352.8 663.8,356.3 L 666.5,359.9" class="tn"/>
<path d="M 660.8,338.4 C 659.7,339.6 660.3,341.1 661.8,342.2 L 665.3,344.7 C 668.4,347.2 670.4,351.8 672.4,355.8 L 676.5,361.4 L 678.5,362.4" class="tn"/>
<path d="M 640.0,338.8 L 644.6,340.6 L 644.6,348.7 L 647.1,349.7 L 647.1,342.7" class="tn"/>
<path d="M 674.4,370.5 L 679.0,374.1 L 680.5,371.5 L 708.9,387.2 L 718.0,381.6" class="tn"/>
<path d="M 681.5,370.0 L 709.9,385.7" class="tn"/>
<path d="M 675.9,363.1 L 688.6,370.0" class="tn"/>
<path d="M 696.7,371.0 L 718.0,381.6" class="tn"/>
<path d="M 707.8,389.7 L 708.9,387.2" class="tn"/>
<path d="M 690.6,354.8 C 687.6,357.8 686.1,363.9 689.6,367.5 C 693.7,367.0 697.7,359.9 698.2,353.8 C 696.7,352.3 693.2,352.8 690.6,354.8 Z" class="tn"/>
<path d="M 692.2,355.8 C 690.1,358.9 689.1,362.9 690.6,365.4" class="tn"/>
<path d="M 689.6,367.5 L 695.2,371.0 M 698.2,353.8 L 699.7,354.8" class="tn"/>
<path d="M 724.1,336.8 L 718.0,340.6 C 709.9,344.7 701.8,349.7 699.7,353.8 C 697.7,358.9 697.7,364.9 700.8,370.0 C 702.8,372.0 704.8,373.5 708.9,376.1 L 721.0,380.6 C 724.1,381.1 726.1,383.2 728.1,386.2 L 741.3,393.3 L 744.8,393.3 L 745.8,395.8" class="tn"/>
<path d="M 798.0,290.0 L 724.6,333.5 L 724.6,336.8 L 743.8,345.5 C 745.8,346.0 747.3,345.5 748.9,344.7 L 800.0,314.8" class="tn"/>
<path d="M 718.0,341.1 L 743.3,356.3 L 800.0,322.9" class="tn"/>
<path d="M 744.3,382.2 C 744.3,379.5 748.2,377.3 752.9,377.3 C 757.7,377.3 761.5,379.5 761.5,382.2 C 761.5,384.8 757.7,387.0 752.9,387.0 C 748.2,387.0 744.3,384.8 744.3,382.2 Z" class="tn"/>
<path d="M 750.9,386.2 C 753.4,387.0 757.5,386.2 759.0,384.2" class="tn"/>
<path d="M 745.3,395.8 C 741.3,396.3 737.2,399.4 737.7,403.4 C 738.2,406.5 739.7,407.5 741.3,408.0 L 1002.2,559.6 L 1012.4,551.3" class="tn"/>
<path d="M 745.8,397.1 C 742.3,398.9 739.7,401.4 741.3,405.4 L 747.8,409.0 L 1003.2,556.1" class="tn"/>
<path d="M 750.4,407.5 L 760.0,405.6 L 948.6,515.0 C 953.6,517.5 956.7,524.6 960.7,530.7 L 967.8,534.8" class="tn"/>
<path d="M 745.3,397.3 L 748.9,408.5 L 759.0,403.9 C 763.5,401.4 766.6,401.4 770.1,402.9 L 956.7,509.9 C 961.7,512.5 964.8,520.6 969.8,526.7 L 1012.4,551.0 C 1016.4,549.9 1018.4,551.0 1020.5,554.0 L 1024.5,557.0 L 1035.6,563.6 L 1039.2,563.3 L 1040.2,566.2" class="tn"/>
<path d="M 971.8,530.5 L 1006.3,550.5" class="tn"/>
<path d="M 640.0,358.9 C 643.0,354.8 648.1,353.8 653.2,353.8 C 658.2,354.3 662.3,356.8 665.3,359.9 L 673.4,364.9" class="md"/>
<path d="M 648.1,375.1 C 649.1,373.0 651.1,372.5 653.2,372.5 L 662.3,376.6 C 665.3,378.1 667.8,377.1 668.9,374.1 L 670.4,368.0 C 670.9,365.4 672.4,364.4 674.4,364.9 L 675.4,367.0 L 675.4,370.0" class="md"/>
<path d="M 647.6,376.1 L 648.6,416.6 C 649.6,424.7 655.2,430.8 663.3,435.8 C 668.4,438.9 670.4,441.9 670.4,450.0" class="md"/>
<path d="M 650.1,376.1 L 650.6,415.6 C 651.6,422.7 656.7,428.7 664.3,433.3 C 670.4,436.8 672.4,441.9 672.4,450.0" class="tn"/>
<path d="M 671.4,367.0 L 672.4,370.0 L 674.4,370.5" class="tn"/>
<path d="M 923.3,538.7 C 919.2,539.4 916.7,542.9 916.7,549.0 C 916.7,557.1 920.3,567.2 929.4,575.3 C 934.4,579.9 940.5,583.4 944.6,582.9 C 947.6,581.9 948.6,577.3 948.1,571.3 C 947.1,561.1 940.5,549.0 931.4,541.9 C 928.4,539.4 925.3,538.4 923.3,538.7 Z" class="tn"/>
<path d="M 925.3,539.9 C 921.8,540.9 919.2,543.9 919.4,550.0 C 919.7,558.1 923.3,567.2 931.4,574.8 C 935.4,578.4 940.5,580.9 944.1,581.4" class="tn"/>
<path d="M 928.9,540.9 C 926.8,547.0 928.4,561.1 934.4,570.3 C 937.5,575.3 942.5,579.4 946.6,579.9" class="tn"/>
<path d="M 930.4,542.9 C 928.9,549.0 930.4,561.1 935.9,569.2 C 939.0,573.8 943.5,577.3 947.1,577.8" class="tn"/>
<path d="M 935.4,548.0 C 933.4,554.1 934.9,563.2 939.5,569.2 C 942.0,572.3 945.1,574.8 947.6,575.3" class="tn"/>
<path d="M 1039.0,552.2 C 1039.0,549.5 1042.8,547.4 1047.3,547.4 C 1051.9,547.4 1055.6,549.5 1055.6,552.2 C 1055.6,554.9 1051.9,557.1 1047.3,557.1 C 1042.8,557.1 1039.0,554.9 1039.0,552.2 Z" class="tn"/>
<path d="M 1045.8,556.6 C 1048.9,557.1 1052.9,556.1 1054.4,554.1" class="tn"/>
<path d="M 1040.3,566.2 C 1035.7,566.2 1031.6,569.2 1032.2,573.3 C 1032.2,575.3 1033.7,576.3 1035.2,576.8 L 1095.6,612.3" class="tn"/>
<path d="M 1040.3,567.4 C 1037.2,568.2 1034.7,570.8 1035.7,574.3 L 1094.9,608.9" class="tn"/>
<path d="M 1039.7,566.7 L 1041.8,577.3" class="tn"/>
<path d="M 1040.8,567.2 C 1048.9,572.9 1067.8,576.7 1090.6,571.0 C 1105.8,565.3 1121.0,553.9 1140.0,543.5" class="tn"/>
<path d="M 957.0,615.3 L 1017.3,650.8" class="tn"/>
<path d="M 931.2,633.0 C 928.7,635.6 927.7,638.6 928.7,641.1 L 930.2,642.7 L 1017.3,691.3" class="tn"/>
<path d="M 930.9,633.8 L 940.3,639.4 L 935.3,643.5 Z" class="tn"/>
<path d="M 945.4,636.1 C 948.9,634.8 953.5,636.1 956.7,638.8" class="md"/>
<path d="M 949.9,636.8 L 944.4,645.2" class="md"/>
<path d="M 944.4,645.2 L 950.6,642.7 L 957.0,646.2 L 950.9,649.9 Z" class="md"/>
<path d="M 957.0,652.0 C 957.5,648.9 961.6,649.2 963.8,652.0 L 961.1,656.0 C 958.5,656.0 957.0,654.5 957.0,652.0 Z" class="md"/>
<path d="M 963.8,652.0 L 970.5,655.0 L 968.2,660.1 L 962.6,657.0" class="md"/>
<path d="M 973.2,655.0 L 970.2,661.1" class="md"/>
<path d="M 976.0,654.0 L 983.9,663.9 L 966.8,661.5 Z" class="tn"/>
<path d="M 1017.3,693.3 L 1017.3,637.6 C 1017.8,630.5 1021.3,625.4 1027.4,622.4 L 1051.7,608.7 C 1053.7,607.7 1055.8,608.0 1057.8,609.2 L 1061.8,611.8 C 1063.9,612.8 1065.9,612.5 1067.9,611.3 L 1075.0,607.2" class="md"/>
<path d="M 1020.3,691.8 L 1020.3,638.6 C 1020.8,632.5 1023.9,628.0 1029.4,624.9 L 1053.2,611.5" class="tn"/>
<path d="M 1032.5,623.9 L 1032.5,684.2" class="tn"/>
<path d="M 1022.8,684.2 L 1022.5,639.6 C 1023.1,634.6 1025.6,630.5 1030.6,627.7" class="tn"/>
<path d="M 1022.8,684.2 C 1023.9,686.2 1025.9,686.2 1028.4,685.2 L 1047.7,674.6" class="tn"/>
<path d="M 1020.3,692.3 L 1048.7,676.1 C 1050.7,674.6 1053.2,674.1 1055.8,674.6 L 1058.8,677.1" class="tn"/>
<path d="M 998.0,675.6 C 999.1,671.0 1006.1,667.0 1015.3,664.4 L 1017.3,663.4" class="tn"/>
<path d="M 998.0,675.6 L 998.0,680.1 L 1017.3,689.7" class="tn"/>
<path d="M 1136.1,718.9 C 1137.5,722.4 1139.6,723.8 1141.6,723.8 L 1145.1,723.1 L 1145.8,712.7 L 1147.2,712.7 C 1151.4,712.0 1155.6,710.6 1159.7,710.2 C 1165.3,711.0 1169.5,710.6 1173.7,707.1 C 1180.6,701.5 1184.8,691.8 1186.9,679.2 L 1187.9,672.3" class="tk"/>
<path d="M 1144.7,640.0 L 1145.8,712.7" class="md"/>
<path d="M 1095.7,612.7 L 1143.3,639.7" class="md"/>
<path d="M 1098.5,611.7 L 1141.9,637.5" class="tn"/>
<path d="M 1040.0,615.9 L 1051.8,609.3 C 1053.9,608.5 1055.6,608.9 1057.4,610.0 L 1064.4,613.1 L 1075.5,606.6 C 1077.6,605.7 1079.7,606.6 1081.8,607.9 L 1095.7,615.9" class="tn"/>
<path d="M 1042.8,573.4 L 1064.4,588.0 L 1065.1,595.0" class="tn"/>
<path d="M 1065.8,589.4 L 1074.8,584.3 L 1105.4,601.5 C 1107.5,602.9 1108.2,605.4 1107.9,612.4" class="tn"/>
<path d="M 1095.7,612.4 C 1095.0,608.2 1097.1,605.4 1101.3,604.7 L 1105.4,606.1" class="tn"/>
<path d="M 1099.2,611.0 C 1099.2,608.2 1101.3,606.8 1104.1,607.1" class="tn"/>
<path d="M 1044.2,576.5 L 1063.0,587.3" class="tn"/>
<path d="M 1044.9,577.9 L 1063.9,589.0" class="tn"/>
<path d="M 1095.0,593.6 L 1124.2,576.9 C 1129.1,574.8 1134.7,574.8 1140.3,575.9 L 1148.6,577.6" class="tn"/>
<path d="M 1137.5,574.8 L 1197.3,540.0" class="tn"/>
<path d="M 1145.8,577.3 L 1172.3,563.0 L 1173.0,558.1 C 1173.7,556.4 1175.8,555.6 1177.8,555.3 L 1185.5,554.6 L 1208.5,540.0" class="tn"/>
<path d="M 1212.7,572.7 L 1260.0,547.0" class="tn"/>
<path d="M 1221.0,581.8 L 1260.0,559.5" class="tn"/>
<path d="M 1173.0,558.1 L 1202.9,541.4" class="tn"/>
<path d="M 1150.0,588.0 C 1151.4,584.6 1155.6,581.8 1161.1,578.3 L 1173.7,569.9 C 1177.8,566.5 1183.4,564.4 1189.0,565.1 L 1195.9,567.2 L 1216.8,579.0 C 1221.0,581.8 1223.1,585.9 1222.4,591.5 L 1221.7,595.7 C 1221.0,599.9 1218.2,602.0 1214.1,604.1 L 1172.3,628.4 L 1171.6,620.8 L 1148.6,636.1" class="gft"/>
<path d="M 1150.0,588.0 C 1147.9,592.9 1148.6,598.5 1151.4,602.7 L 1154.2,608.2 L 1151.4,609.6" class="tn"/>
<path d="M 1163.2,580.7 L 1198.7,601.3" class="md"/>
<path d="M 1167.7,579.5 L 1199.8,598.2" class="md"/>
<path d="M 1172.1,578.4 L 1201.0,595.1" class="md"/>
<path d="M 1176.6,577.3 L 1202.1,592.1" class="md"/>
<path d="M 1181.1,576.2 L 1203.2,589.0" class="md"/>
<path d="M 1185.6,575.1 L 1204.3,585.9" class="md"/>
<path d="M 1190.1,573.8 L 1205.3,582.7" class="md"/>
<path d="M 1194.6,572.7 L 1206.4,579.7" class="md"/>
<path d="M 1221.7,603.4 C 1223.8,606.1 1223.8,611.0 1221.0,615.2 L 1211.3,623.5 L 1204.3,629.1 L 1209.2,630.5 C 1210.6,636.1 1209.9,640.3 1207.1,643.7 C 1204.3,647.2 1200.1,650.0 1195.9,652.8 L 1187.6,658.4 L 1187.9,672.3" class="tn"/>
<path d="M 1109.6,611.7 L 1120.1,613.8 L 1137.5,604.7 C 1141.6,603.4 1145.8,604.1 1150.0,606.1 L 1154.2,608.2" class="tn"/>
<path d="M 1109.6,611.7 L 1108.2,614.5 C 1112.4,618.0 1118.0,620.8 1123.5,620.8 L 1145.8,608.2" class="tn"/>
<path d="M 1129.1,623.5 L 1147.2,612.4" class="tn"/>
<path d="M 1146.5,655.6 C 1148.6,651.4 1152.8,650.0 1157.0,647.9 L 1221.7,611.0" class="tn"/>
<path d="M 1147.2,693.2 C 1145.8,686.2 1146.1,665.3 1147.2,658.4 C 1148.6,654.2 1151.4,652.1 1155.6,650.0 L 1204.3,629.1" class="tn"/>
<path d="M 1145.8,645.8 C 1147.2,643.0 1150.0,640.9 1154.2,638.9 L 1171.6,629.1" class="tn"/>
<path d="M 1147.2,693.2 C 1147.9,695.9 1151.4,697.3 1155.6,695.3 L 1175.1,684.8 L 1175.8,661.1 L 1179.2,659.1 C 1182.0,657.7 1184.8,658.4 1186.2,660.4" class="tn"/>
<path d="M 1147.2,704.3 C 1151.4,705.7 1158.4,705.0 1165.3,704.3 C 1170.9,702.9 1175.1,698.7 1177.2,693.2 L 1179.2,662.5" class="tn"/>
<path d="M 1164.6,637.5 L 1172.3,629.1 L 1193.2,619.4" class="tn"/>
<path d="M 1190.4,620.8 C 1191.8,618.0 1197.3,616.6 1199.4,618.7" class="tn"/>
<path d="M 1107.5,639.6 L 1112.4,642.3 L 1125.6,650.0 L 1125.6,682.0 L 1108.2,671.6 Z" class="tn"/>
<path d="M 1110.3,643.3 L 1123.5,651.0 L 1123.5,678.5 L 1110.3,670.9 Z" class="tn"/>
<path d="M 1115.2,645.8 L 1115.2,669.5 M 1115.2,650.0 C 1119.4,651.4 1122.2,655.6 1121.5,661.1 L 1118.0,665.3 L 1120.8,668.8" class="tn"/>
<path d="M 1134.7,655.6 L 1143.0,657.7 L 1143.7,689.7 L 1136.1,687.6 C 1134.7,686.2 1134.4,684.8 1134.4,682.0 Z" class="tn"/>
<path d="M 1137.5,657.9 L 1141.6,659.3 L 1142.3,686.2 L 1138.2,685.2 Z" class="tn"/>
<path d="M 1040.0,677.2 L 1053.9,669.5" class="tn"/>
<path d="M 877.0,207.1 L 921.6,181.3 C 925.4,179.4 933.0,179.0 937.8,181.3 L 964.4,196.5 L 967.6,199.9 L 989.0,212.2 C 991.9,209.7 996.6,209.0 1000.4,209.7 L 1039.4,232.2 C 1045.1,235.0 1048.9,239.7 1051.1,248.3 L 1140.0,301.3" class="tk"/>
<path d="M 900.0,204.6 L 926.4,188.9 C 929.2,187.5 933.0,187.9 935.9,190.0 L 953.0,199.5 L 954.9,203.3 L 984.3,218.5 L 1140.0,309.6" class="tn"/>
<path d="M 984.3,218.5 L 989.0,212.8" class="tn"/>
<path d="M 1030.8,245.4 L 1037.5,241.6 L 1051.1,248.9" class="tn"/>
<path d="M 881.4,246.4 L 909.3,228.0 L 931.1,216.6 C 942.5,211.3 961.5,212.2 972.9,217.0 L 1140.0,315.1" class="tn"/>
<path d="M 998.5,233.1 C 1003.3,231.2 1008.0,233.1 1010.9,236.9" class="tn"/>
<path d="M 900.0,220.4 C 903.6,222.7 906.5,225.5 908.4,229.3" class="tn"/>
<path d="M 981.5,245.8 C 981.5,243.0 985.3,240.7 990.0,240.7 C 994.7,240.7 998.5,243.0 998.5,245.8 C 998.5,248.7 994.7,250.9 990.0,250.9 C 985.3,250.9 981.5,248.7 981.5,245.8 Z" class="tn"/>
<path d="M 986.2,249.2 C 989.0,250.4 993.8,249.6 995.7,247.7" class="tn"/>
<path d="M 1140.0,301.1 L 1284.3,384.5 L 1289.0,380.7 C 1291.9,378.8 1294.7,378.8 1297.6,380.7 L 1335.6,402.5 C 1340.3,405.4 1343.2,410.1 1345.1,416.8 L 1346.0,418.7 C 1350.8,420.6 1354.6,423.4 1356.5,427.2 L 1370.7,455.7 L 1400.1,473.7 L 1403.0,477.5 L 1403.0,535.4 L 1421.0,545.9 C 1424.8,548.7 1426.7,552.5 1426.7,557.3 L 1426.7,563.9 C 1425.8,567.7 1422.9,569.6 1419.1,571.5 L 1367.8,600.0" class="tk"/>
<path d="M 1140.0,309.5 L 1277.7,389.2 L 1284.3,393.0 L 1322.3,414.9" class="tn"/>
<path d="M 1140.0,315.2 L 1277.7,394.4 L 1291.9,402.2 C 1305.2,406.3 1320.4,413.9 1323.2,425.3 L 1323.2,459.5" class="tn"/>
<path d="M 1325.1,414.9 L 1332.7,411.1 L 1346.0,418.7" class="tn"/>
<path d="M 1293.8,402.5 C 1299.5,401.6 1306.1,404.4 1309.0,411.1" class="tn"/>
<path d="M 1277.7,415.4 C 1277.7,412.8 1281.1,410.7 1285.3,410.7 C 1289.4,410.7 1292.8,412.8 1292.8,415.4 C 1292.8,418.1 1289.4,420.2 1285.3,420.2 C 1281.1,420.2 1277.7,418.1 1277.7,415.4 Z" class="tn"/>
<path d="M 1323.2,431.0 C 1322.3,438.6 1318.5,441.5 1310.9,445.3 L 1290.0,455.7 L 1140.0,541.1" class="tn"/>
<path d="M 1332.7,412.0 L 1367.8,465.2" class="tn"/>
<path d="M 1333.7,445.3 L 1337.5,448.1 L 1367.8,465.2" class="tn"/>
<path d="M 1337.5,448.1 L 1336.5,451.9 L 1323.2,459.5" class="tn"/>
<path d="M 1290.9,479.8 L 1336.5,452.3" class="tn"/>
<path d="M 1290.9,479.8 C 1288.7,481.7 1288.7,484.2 1290.0,486.5 L 1304.2,516.5 L 1298.5,520.3" class="tn"/>
<path d="M 1223.5,582.9 L 1403.0,479.4" class="tn"/>
<path d="M 1172.3,558.2 C 1173.2,555.9 1177.0,555.0 1180.3,554.0 L 1289.0,490.4" class="tn"/>
<path d="M 1172.3,558.2 L 1172.3,565.8" class="tn"/>
<path d="M 1178.0,556.7 L 1288.5,493.3" class="tn"/>
<path d="M 1195.1,567.2 L 1301.4,506.4" class="tn"/>
<path d="M 1210.3,572.8 L 1298.5,519.7" class="tn"/>
<path d="M 1152.3,494.6 L 1185.6,475.6 C 1191.3,482.3 1198.9,486.1 1208.4,488.0 L 1175.1,507.9 C 1170.4,501.3 1162.8,496.5 1152.3,494.6 Z" class="tn"/>
<path d="M 1356.5,440.0 L 1370.7,455.2 L 1400.1,473.8 L 1403.0,478.0 L 1403.0,535.9 L 1421.0,546.3 C 1425.8,549.2 1427.1,553.9 1427.1,558.7 L 1426.7,563.4 C 1425.8,568.2 1422.9,570.1 1419.1,572.0 L 1300.4,639.4 L 1291.9,646.0 C 1286.2,649.8 1276.7,650.8 1269.1,648.5 L 1248.2,637.5 L 1187.5,671.6" class="tk"/>
<path d="M 1300.4,598.5 L 1400.1,540.6 L 1403.0,535.9" class="tn"/>
<path d="M 1295.7,639.4 L 1422.9,566.3 C 1424.8,564.4 1425.8,562.5 1426.7,559.6" class="tn"/>
<path d="M 1248.2,611.8 L 1248.2,637.5" class="tn"/>
<path d="M 1248.2,611.8 L 1266.3,602.3 C 1276.7,599.5 1291.9,601.4 1299.5,609.0 C 1302.3,612.8 1302.3,616.6 1300.4,620.4 L 1300.4,639.4" class="tn"/>
<path d="M 1248.2,611.8 L 1269.1,624.2 C 1276.7,628.0 1290.0,628.0 1297.6,622.3 L 1300.4,620.4" class="tn"/>
<path d="M 1267.8,613.7 C 1267.8,609.5 1273.9,606.1 1281.5,606.1 C 1289.0,606.1 1295.1,609.5 1295.1,613.7 C 1295.1,617.9 1289.0,621.3 1281.5,621.3 C 1273.9,621.3 1267.8,617.9 1267.8,613.7 Z" class="tn"/>
<path d="M 1272.3,607.1 L 1272.3,614.7 C 1274.8,617.5 1284.3,617.5 1287.2,614.7 L 1287.2,607.1" class="tn"/>
<path d="M 1268.9,607.5 C 1268.9,606.7 1269.7,606.1 1270.6,606.1 C 1271.6,606.1 1272.3,606.7 1272.3,607.5 C 1272.3,608.2 1271.6,608.8 1270.6,608.8 C 1269.7,608.8 1268.9,608.2 1268.9,607.5 Z" class="tn"/>
<path d="M 1264.7,615.4 C 1264.7,614.7 1265.5,614.1 1266.5,614.1 C 1267.4,614.1 1268.2,614.7 1268.2,615.4 C 1268.2,616.2 1267.4,616.8 1266.5,616.8 C 1265.5,616.8 1264.7,616.2 1264.7,615.4 Z" class="tn"/>
<path d="M 1275.0,620.9 C 1275.0,620.2 1275.8,619.6 1276.7,619.6 C 1277.7,619.6 1278.4,620.2 1278.4,620.9 C 1278.4,621.7 1277.7,622.3 1276.7,622.3 C 1275.8,622.3 1275.0,621.7 1275.0,620.9 Z" class="tn"/>
<path d="M 1288.3,618.9 C 1288.3,618.1 1289.1,617.5 1290.0,617.5 C 1290.9,617.5 1291.7,618.1 1291.7,618.9 C 1291.7,619.6 1290.9,620.2 1290.0,620.2 C 1289.1,620.2 1288.3,619.6 1288.3,618.9 Z" class="tn"/>
<path d="M 1292.5,611.3 C 1292.5,610.5 1293.2,609.9 1294.2,609.9 C 1295.1,609.9 1295.9,610.5 1295.9,611.3 C 1295.9,612.0 1295.1,612.6 1294.2,612.6 C 1293.2,612.6 1292.5,612.0 1292.5,611.3 Z" class="tn"/>
<path d="M 1264.7,590.0 L 1264.7,596.6 C 1266.3,603.3 1276.7,606.1 1281.5,606.1 C 1290.0,606.1 1296.6,602.3 1297.2,596.6 L 1297.2,590.0 Z" class="gft"/>
<path d="M 1264.7,589.0 C 1264.7,584.0 1272.0,579.9 1280.9,579.9 C 1289.8,579.9 1297.0,584.0 1297.0,589.0 C 1297.0,594.1 1289.8,598.2 1280.9,598.2 C 1272.0,598.2 1264.7,594.1 1264.7,589.0 Z" class="gft"/>
<path d="M 1329.9,594.7 C 1329.9,592.1 1333.4,590.0 1337.8,590.0 C 1342.3,590.0 1345.8,592.1 1345.8,594.7 C 1345.8,597.4 1342.3,599.5 1337.8,599.5 C 1333.4,599.5 1329.9,597.4 1329.9,594.7 Z" class="tn"/>
<path d="M 1332.7,596.6 C 1335.6,598.5 1341.3,598.5 1344.1,596.1" class="tn"/>
<path d="M 1347.0,587.2 L 1353.6,581.5 L 1360.3,586.2 Z" class="tn"/>
<path d="M 840.0,547.1 L 955.8,615.6 L 931.1,629.9 C 926.4,632.7 925.4,637.5 927.3,644.1 L 931.1,647.0 L 1018.5,692.5 C 1022.3,694.0 1027.0,693.5 1029.9,691.6 L 1054.6,676.4 L 1058.4,673.5 L 1136.2,718.7" class="tk"/>
<path d="M 600.0,398.0 L 611.4,404.3 L 612.3,418.9 L 647.5,438.9" class="tk"/>
<path d="M 694.9,463.5 L 900.0,581.6" class="tk"/>
<path d="M 637.0,380.0 L 637.0,408.5 C 638.0,423.7 643.7,435.1 653.2,442.7 L 670.3,455.0 L 673.7,450.6 C 673.1,443.6 670.6,437.9 665.5,435.1 C 656.6,430.3 652.2,424.1 650.9,413.8 L 650.9,380.0 Z" class="gf"/>
<path d="M 673.1,455.0 L 689.2,464.5 L 694.0,463.9 L 693.0,460.7 L 677.8,451.2 L 674.1,451.8 Z" class="gf"/>
<path d="M 637.0,380.0 L 637.0,408.5 C 638.0,423.7 643.7,435.1 653.2,442.7 L 670.3,455.0 L 672.2,452.2" class="md"/>
<path d="M 648.4,380.0 L 648.4,414.2 C 649.7,425.6 655.1,432.2 664.6,437.0 C 669.3,439.8 671.2,444.6 671.8,452.2" class="md"/>
<path d="M 650.9,380.0 L 650.9,413.8 C 652.2,424.1 656.6,430.3 665.5,435.1 C 670.6,437.9 673.1,443.6 673.7,450.6" class="tn"/>
<path d="M 674.1,451.8 L 677.8,451.2 L 693.0,460.7 L 694.0,463.9" class="tn"/>
<path d="M 673.1,455.0 L 689.2,464.5 L 694.0,463.9" class="tn"/>
<path d="M 797.5,465.4 C 791.8,466.4 789.9,471.1 789.9,476.8 L 790.8,488.2 C 791.8,497.7 797.5,505.3 808.9,508.2 L 814.6,510.1 C 818.4,510.1 821.2,508.2 824.0,505.3 L 839.2,515.8 L 841.1,513.9 L 840.8,495.8 C 840.2,492.0 837.3,489.7 833.5,488.2 L 804.1,466.4 C 801.3,464.9 799.4,464.9 797.5,465.4 Z" class="tn"/>
<path d="M 800.3,467.7 C 795.6,469.2 793.7,473.0 793.7,477.8 L 794.6,488.2 C 795.6,495.8 801.3,502.5 810.8,505.3 L 814.6,506.3" class="tn"/>
<path d="M 806.0,471.1 L 806.0,493.9 L 812.7,497.7 L 821.2,492.0 L 821.2,478.7" class="tn"/>
<path d="M 812.7,497.7 L 839.2,512.9" class="tn"/>
<path class="dshw" d="M574.55,167.4 V363.0"/>
<path class="dsh" d="M574.55,168.4 V362.0" stroke-dashoffset="5.75"/>
<path class="tn" d="M571.3,302 V352"/>
<path class="dshw" d="M786.80,71.0 V232.0"/>
<path class="dsh" d="M786.80,72.0 V231.0" stroke-dashoffset="4.20"/>
<path class="dshw" d="M1280.60,225.7 V591.0"/>
<path class="dsh" d="M1280.60,226.7 V590.0" stroke-dashoffset="9.85"/>
<path class="tn" d="M568.0,360.0 l3,1 M578.0,361.5 l3,-1.5 M568.0,365.5 l3,-1.5 M578.0,364.0 l3.5,1.5"/>
<path class="tn" d="M780.3,229.0 l3,1 M790.3,230.5 l3,-1.5 M780.3,234.5 l3,-1.5 M790.3,233.0 l3.5,1.5"/>
<path class="tn" d="M1274.5,588.0 l3,1 M1284.5,589.5 l3,-1.5 M1274.5,593.5 l3,-1.5 M1284.5,592.0 l3.5,1.5"/>
<path d="M471.4,160.5 A97.5,42.2 0 0 0 524.7,198.1 L524.7,231.5 A97.5,51.5 0 0 1 471.4,185.6 Z" fill="none" stroke="#fff" stroke-width="5"/>
<path d="M666.4,160.5 A97.5,42.2 0 0 1 618.7,196.8 L617.5,183.5 L587.0,217.6 L617.5,242.0 L618.7,229.9 A97.5,51.5 0 0 0 666.4,185.6 Z" fill="none" stroke="#fff" stroke-width="5"/>
<clipPath id="r1"><path d="M471.4,146.6 A97.5,56.8 0 0 1 666.4,146.6 L666.4,174.8 A97.5,51.9 0 0 0 471.4,174.8 Z"/></clipPath>
<g clip-path="url(#r1)" fill="#000"><rect x="467.4" y="86.6" width="15.1" height="80"/><rect x="494.1" y="86.6" width="15.1" height="80"/><rect x="520.8" y="86.6" width="15.1" height="80"/><rect x="547.5" y="86.6" width="15.1" height="80"/><rect x="574.2" y="86.6" width="15.1" height="80"/><rect x="600.9" y="86.6" width="15.1" height="80"/><rect x="627.6" y="86.6" width="15.1" height="80"/><rect x="654.3" y="86.6" width="15.1" height="80"/></g>
<path class="bkh" d="M471.4,160.5 A97.5,42.2 0 0 0 524.7,198.1 L524.7,231.5 A97.5,51.5 0 0 1 471.4,185.6 Z"/>
<path class="bkh" d="M666.4,160.5 A97.5,42.2 0 0 1 618.7,196.8 L617.5,183.5 L587.0,217.6 L617.5,242.0 L618.7,229.9 A97.5,51.5 0 0 0 666.4,185.6 Z"/>
<path d="M687.6,74.8 A97.5,42.2 0 0 0 740.9,112.4 L740.9,145.8 A97.5,51.5 0 0 1 687.6,99.9 Z" fill="none" stroke="#fff" stroke-width="5"/>
<path d="M882.6,74.8 A97.5,42.2 0 0 1 834.9,111.1 L833.7,97.8 L803.2,131.9 L833.7,156.3 L834.9,144.2 A97.5,51.5 0 0 0 882.6,99.9 Z" fill="none" stroke="#fff" stroke-width="5"/>
<clipPath id="r2"><path d="M687.6,60.9 A97.5,56.8 0 0 1 882.6,60.9 L882.6,89.1 A97.5,51.9 0 0 0 687.6,89.1 Z"/></clipPath>
<g clip-path="url(#r2)" fill="#000"><rect x="683.6" y="0.9" width="15.1" height="80"/><rect x="710.3" y="0.9" width="15.1" height="80"/><rect x="737.0" y="0.9" width="15.1" height="80"/><rect x="763.7" y="0.9" width="15.1" height="80"/><rect x="790.4" y="0.9" width="15.1" height="80"/><rect x="817.1" y="0.9" width="15.1" height="80"/><rect x="843.8" y="0.9" width="15.1" height="80"/><rect x="870.5" y="0.9" width="15.1" height="80"/></g>
<path class="bkh" d="M687.6,74.8 A97.5,42.2 0 0 0 740.9,112.4 L740.9,145.8 A97.5,51.5 0 0 1 687.6,99.9 Z"/>
<path class="bkh" d="M882.6,74.8 A97.5,42.2 0 0 1 834.9,111.1 L833.7,97.8 L803.2,131.9 L833.7,156.3 L834.9,144.2 A97.5,51.5 0 0 0 882.6,99.9 Z"/>
<path d="M1180.1,224.7 A97.5,42.2 0 0 0 1233.4,262.3 L1233.4,295.7 A97.5,51.5 0 0 1 1180.1,249.8 Z" fill="none" stroke="#fff" stroke-width="5"/>
<path d="M1375.1,224.7 A97.5,42.2 0 0 1 1327.4,261.0 L1326.2,247.7 L1295.7,281.8 L1326.2,306.2 L1327.4,294.1 A97.5,51.5 0 0 0 1375.1,249.8 Z" fill="none" stroke="#fff" stroke-width="5"/>
<clipPath id="r3"><path d="M1180.1,210.8 A97.5,56.8 0 0 1 1375.1,210.8 L1375.1,239.0 A97.5,51.9 0 0 0 1180.1,239.0 Z"/></clipPath>
<g clip-path="url(#r3)" fill="#000"><rect x="1176.1" y="150.8" width="15.1" height="80"/><rect x="1202.8" y="150.8" width="15.1" height="80"/><rect x="1229.5" y="150.8" width="15.1" height="80"/><rect x="1256.2" y="150.8" width="15.1" height="80"/><rect x="1282.9" y="150.8" width="15.1" height="80"/><rect x="1309.6" y="150.8" width="15.1" height="80"/><rect x="1336.3" y="150.8" width="15.1" height="80"/><rect x="1363.0" y="150.8" width="15.1" height="80"/></g>
<path class="bkh" d="M1180.1,224.7 A97.5,42.2 0 0 0 1233.4,262.3 L1233.4,295.7 A97.5,51.5 0 0 1 1180.1,249.8 Z"/>
<path class="bkh" d="M1375.1,224.7 A97.5,42.2 0 0 1 1327.4,261.0 L1326.2,247.7 L1295.7,281.8 L1326.2,306.2 L1327.4,294.1 A97.5,51.5 0 0 0 1375.1,249.8 Z"/>
<circle cx="634.2" cy="36.0" r="32.3" fill="#687dd0"/>
<text class="num" x="634.2" y="52.9">2</text>
<circle cx="1170.8" cy="123.1" r="32.3" fill="#687dd0"/>
<text class="num" x="1170.8" y="140.0">2</text>
<circle cx="915.2" cy="877.7" r="32.3" fill="#687dd0"/>
<path fill="#fff" transform="translate(915.2,877.7)" d="M-0.8,-17.6 L5.3,-17.6 L5.3,16.2 L-2.2,16.2 L-2.2,-6 L-11.6,-6 L-11.6,-11.2 C-6.5,-11.4 -2.6,-13.6 -0.8,-17.6 Z"/>
</svg>
</body></html>
